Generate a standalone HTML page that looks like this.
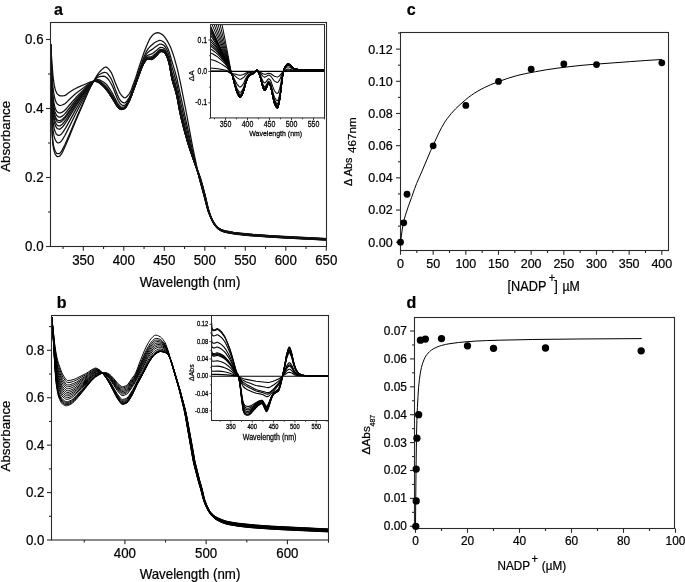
<!DOCTYPE html><html><head><meta charset="utf-8"><style>html,body{margin:0;padding:0;background:#fff;}svg{display:block;will-change:transform}text{font-family:"Liberation Sans",sans-serif;fill:#000;stroke:#000;stroke-width:0.22px}</style></head><body>
<svg width="685" height="582" viewBox="0 0 685 582">
<rect width="685" height="582" fill="#fff"/>
<defs><clipPath id="ca"><rect x="50.5" y="22.5" width="276.0" height="224.0"/></clipPath><clipPath id="cia"><rect x="210.5" y="24.6" width="114.0" height="93.30000000000001"/></clipPath></defs>
<g clip-path="url(#ca)">
<path d="M50.9 44.7l1.1 82.8l0.1 5.4l0.3 5.7l0.5 6.3l0.5 2.8l0.5 2.7l0.7 2.2l0.6 1.6l0.9 1.3l0.8 0.9l0.4 0.2l0.7 0l1.1-0.2l0.5-0.2l0.6-0.5l0.8-1.1l0.7-0.9l0.6-1.2l2.8-5.9l2.3-5.4l8.7-21.1l12.6-29.4l2-4l2.4-4.4l3.9-6.9l1.2-1.8l0.8-1.1l3.5-3.6l1.2-1l0.8-0.4l0.8-0.3l0.8-0.1l0.7 0.2l0.8 0.6l1.6 1.8l1.6 2.2l0.8 1.3l1.2 2.7l2.3 6.4l2.8 6.5l1.2 2.7l1.1 2.1l2.4 3l1.2 1l0.4 0.1l0.8 0.1l0.4-0.1l0.8-0.5l1.5-1.5l1.6-1.9l0.8-1.4l1.2-2.6l4.3-11.8l3.9-12.3l4.4-12.9l2.7-7l2.4-5.4l0.8-1.5l1.2-1.7l1.5-2l1.2-1.1l0.8-0.4l2-0.8l1.2-0.2l1.2 0.2l0.7 0.2l1.2 0.6l1.2 0.7l0.8 0.6l0.8 0.8l1.2 1.4l2.3 3.4l2 3.7l2 4.3l1.5 4.1l1.6 4.9l3.2 11.5l1.5 6.8l2 9.2l5.9 29.9l4.6 25.3l1.5 7.7l4.7 22.4l1.8 8.2l1.6 6.1l2.9 10.3l2.9 11.7l1.3 4.3l2.1 5.5l2.1 4.5l1.6 2.8l2 2.8l1.6 1.7l1.2 1l2 1.3l2 0.9l2.7 0.8l3.2 0.7l3.5 0.6l4.8 0.7l7.1 0.8l7.4 0.7l20.1 1.4l17 1l37.8 1.9" fill="none" stroke="#111" stroke-width="1.25" stroke-linejoin="round"/>
<path d="M50.9 44.7l1.1 79.8l0.1 5.3l0.3 5.6l0.5 6.3l0.5 2.9l0.5 2.7l0.7 2.3l0.7 1.7l0.9 1.5l0.8 0.8l0.4 0.1l1 0l0.8-0.1l0.4-0.2l0.8-0.7l1-1.3l0.9-1.5l2.8-5.6l2.3-5.3l8.7-20.4l12.6-28.4l2.4-4.6l2-3.5l2.3-3.5l2-2.4l1.2-1.1l0.8-0.6l2.3-1.2l1.6-0.7l1.2-0.2l1.2 0.1l0.8 0.3l0.7 0.6l0.8 0.8l1.2 1.6l1.6 2.4l0.8 1.5l1.2 2.7l2.7 7.5l2 5l1.2 2.6l1.1 2.2l1.2 1.5l0.8 0.7l0.8 0.5l1.2 0.4l0.8 0l0.4-0.1l0.4-0.2l0.8-0.7l1.1-1.5l2-3l1.2-2.5l1.2-3l3.5-9.7l4-11.8l3.5-10.1l2-5l1.9-4.1l1.6-2.4l1.6-1.9l4.3-3.8l2-1.2l2.4-1.1l1.1-0.3l1.2 0.1l1.2 0.5l1.2 0.6l0.8 0.7l1.2 1.4l1.1 1.8l1.2 2.2l1.2 2.8l0.8 2.2l2 7.2l3.5 11.5l2 7.4l6.3 29.4l9.2 42.5l6.7 26.9l4.8 17.7l2.9 11.5l0.9 2.9l0.8 2.5l2.5 6.1l1.2 2.6l1.2 2.2l1.3 1.8l1.2 1.6l1.5 1.7l1.2 1l2 1.3l2 0.9l2.7 0.8l3.2 0.7l3.5 0.6l4.8 0.6l7.1 0.8l7.4 0.7l20.1 1.5l17 1l37.8 1.8" fill="none" stroke="#111" stroke-width="1.25" stroke-linejoin="round"/>
<path d="M50.9 44.7l1.1 68.6l0.4 9.7l0.7 7.5l0.4 2.7l0.5 2.7l0.6 2l0.7 1.8l0.9 1.7l0.8 1l0.4 0.2l1.3 0.2l0.5-0.1l0.5-0.2l0.7-0.5l1.1-1.1l1.1-1.5l2.1-3.6l1.7-3.2l9.7-19.6l12.2-23.5l2-3.4l2-3.1l1.5-2l2-2.1l1.6-1.3l1.2-0.6l0.8-0.3l2.3-0.4l1.6-0.1l1.2 0.2l1.2 0.5l1.1 0.8l0.8 0.8l1.2 1.5l1.6 2.5l1.2 2l1.6 3.6l4.3 10.8l0.8 1.6l1.2 2.1l1.1 1.5l1.2 0.9l0.8 0.3l0.8 0.1l0.8 0l0.8-0.3l0.4-0.3l0.8-0.8l1.1-1.7l2-3.4l1.2-2.6l4.7-12.8l4-11.5l3.5-9.9l1.2-2.9l1.6-3.3l0.7-1.4l0.8-1.2l2-1.8l1.2-0.9l2-1.2l2.7-2.1l3.6-2.5l1.1-0.6l0.8-0.1l0.4 0l1.2 0.3l1.2 0.5l0.8 0.6l1.2 1.4l1.1 1.8l0.8 1.5l0.8 1.9l1.6 4.6l2 8.7l3.5 11.8l1.6 5.8l1.2 5.3l2.3 11.8l2.8 12.4l5.5 23.4l3 12.7l2.7 10.2l10 36.6l2.9 11.4l0.8 2.9l0.9 2.5l1.6 4.2l1.2 2.8l2.1 3.9l1.2 1.7l1.2 1.6l1.5 1.7l1.2 1l2 1.3l2 0.9l2.7 0.8l3.6 0.7l3.5 0.6l4.8 0.6l7 0.8l7.5 0.7l20.1 1.5l17 0.9l37.4 1.9" fill="none" stroke="#111" stroke-width="1.25" stroke-linejoin="round"/>
<path d="M50.9 44.7l1.1 60.9l0.1 4.2l0.4 5.9l0.7 7.5l0.5 2.8l0.5 2.4l0.6 2.4l0.6 1.4l1 1.9l0.8 0.8l0.6 0.3l1 0.1l0.5 0.1l0.4-0.2l0.7-0.4l1.1-0.9l1.2-1.5l1.9-2.8l1.4-2.2l10.1-18.3l12.6-21.4l2.4-3.5l1.6-2l1.1-1.1l0.8-0.6l0.8-0.4l0.8-0.3l1.2-0.2l1.2 0.1l0.8 0.2l1.5 0.7l2 1.1l1.2 0.7l1.2 1l1.2 1.1l1.1 1.4l2.4 3.4l2.4 4l4.7 9.1l0.8 1.3l1.6 2l1.1 1l0.8 0.4l0.8 0.1l0.8 0l1.2-0.3l0.8-0.3l0.4-0.4l0.8-0.9l1.1-1.9l1.6-2.8l1.2-2.5l1.6-4l3.1-8.6l4.4-12.4l3.1-8.5l1.6-3.6l2-3.7l0.7-1.1l0.8-0.6l1.6-0.8l2.8-0.9l0.7-0.5l4.4-3.4l2-1.8l0.7-0.5l0.8-0.3l0.4-0.1l1.2 0.2l0.8 0.2l0.8 0.4l0.8 0.6l0.8 1l1.1 1.9l1.2 2.6l1.6 4.6l0.8 3.3l1.2 6.3l0.8 3.5l3.5 11.9l1.2 4.5l0.8 3.5l3.1 15.9l2.8 12l3.1 12.6l2.8 10.5l2.7 9.8l2.2 7.9l4.2 13.6l2 6.8l3.9 14.6l2.5 9.7l1.2 4.5l0.8 2.5l1.3 3.2l2 4.6l1.2 2.3l0.8 1.3l2 2.7l1.6 1.7l1.1 1l2 1.2l2 0.9l2.7 0.8l3.6 0.8l3.5 0.6l4.8 0.6l7 0.8l7.5 0.7l20.1 1.4l17 1l37.4 1.8" fill="none" stroke="#111" stroke-width="1.25" stroke-linejoin="round"/>
<path d="M50.9 44.7l1.1 54.4l0.5 9.5l0.8 7.9l0.5 3l0.5 2.6l0.5 2l0.7 1.8l1 1.7l0.7 0.9l0.9 0.4l1 0.2l0.5 0l0.6-0.2l1.7-1.3l2.2-2.6l2.5-3.6l9.5-15.6l12.2-18.4l2.4-3.2l1.6-1.8l1.2-1l0.7-0.5l0.8-0.4l0.8-0.1l1.2 0l1.2 0.2l1.2 0.5l1.5 1l2.4 1.8l2.4 2.2l2.3 2.9l2.4 3.5l1.6 2.6l4.3 7.8l1.2 1.9l1.2 1.4l1.1 1.2l1.2 0.7l0.8 0.1l0.8 0l0.8-0.2l1.6-0.7l0.8-0.8l1.1-1.8l2-3.6l1.2-2.5l1.6-4.1l3.5-9.7l3.6-10l3.1-8.4l1.6-3.6l2.4-4.2l0.7-0.9l0.4-0.3l0.4-0.2l1.6-0.3l2.4-0.3l1.1-0.5l0.8-0.6l3.2-2.7l2.4-2.4l1.1-0.9l0.8-0.2l0.4 0l1.2 0.2l1.2 0.3l0.4 0.3l0.8 0.8l1.1 1.8l0.8 1.4l1.2 3l1.2 3.8l0.8 3.6l1.6 8.8l1.1 4.6l2.8 9l1.2 4.6l3.9 19.8l2 8.5l2.4 9.4l3.1 11.6l2.7 9.4l3.1 10.1l4.3 12.9l1.9 6.4l4.4 16l2.4 9.6l1.2 4.5l0.8 2.4l1.2 3.2l2 4.7l1.2 2.3l0.8 1.3l2 2.6l1.6 1.7l1.1 0.9l2 1.3l2 0.9l2.7 0.8l3.6 0.7l3.9 0.7l4.8 0.6l7 0.8l7.5 0.7l19.7 1.4l17 1l37.4 1.8" fill="none" stroke="#111" stroke-width="1.25" stroke-linejoin="round"/>
<path d="M50.9 44.7l1.1 51.1l0.1 3.6l0.4 6.3l0.8 7.2l0.5 3.1l0.5 2.6l0.5 2.1l0.7 1.8l1 1.8l0.7 0.9l0.9 0.4l1 0.3l0.5 0l0.6-0.1l1.7-1.2l2.3-2.6l2.2-2.9l9.7-15l12.2-17.1l2.4-3l1.6-1.7l0.8-0.7l0.7-0.5l1.2-0.4l0.8-0.1l1.2 0.1l1.2 0.4l0.8 0.3l1.5 1.1l2.4 1.9l2.4 2.4l2.3 2.8l2 2.8l4.7 7.8l2.8 4.9l0.8 1l1.6 1.6l1.1 0.9l0.4 0.1l0.8 0.1l0.8-0.1l0.8-0.2l1.6-0.8l0.8-0.8l0.7-1.1l2.4-4.4l0.8-1.6l2-5l7.1-19.7l3.1-8.3l1.6-3.6l2.4-3.9l0.7-0.9l0.4-0.3l1.2-0.2l3.2-0.2l1.1-0.4l1.2-0.9l2.8-2.4l2.7-2.9l0.8-0.6l0.4-0.2l0.4-0.1l0.8 0l2 0.5l0.4 0.2l0.8 0.8l1.1 1.8l0.8 1.4l1.2 3.1l1.2 3.9l0.8 3.7l1.6 9.1l1.1 4.7l2.8 9l1.2 4.5l3.9 20l2 8.4l2 7.8l3.5 12.8l2.4 7.9l3.5 11l4.3 12.5l2 6.4l4.3 15.9l2.4 9.6l1.2 4.5l0.8 2.4l1.1 3.2l2 4.6l1.2 2.3l0.8 1.3l2 2.6l1.6 1.7l1.1 0.9l2 1.3l2 0.9l2.7 0.7l3.6 0.8l3.9 0.7l4.8 0.6l7 0.8l7.5 0.6l19.7 1.5l17 0.9l37.4 1.9" fill="none" stroke="#111" stroke-width="1.25" stroke-linejoin="round"/>
<path d="M50.9 44.7l1.1 47.5l0.4 7.7l0.7 7.6l0.4 3l0.7 3.7l0.6 2.7l0.7 1.9l0.8 1.7l0.7 1l0.3 0.2l0.8 0.4l1.2 0.4l1-0.2l1.5-0.9l0.9-0.8l2-2.1l1.9-2.4l9.5-13.8l11.8-15.3l2.4-2.8l1.6-1.6l1.6-1.3l1.1-0.4l0.8-0.1l1.2 0.1l1.2 0.3l1.2 0.6l1.1 0.8l2 1.7l1.6 1.4l1.2 1.3l2.7 3.3l2 2.8l4.7 7.7l2.8 4.8l0.8 1l1.6 1.5l1.1 0.8l0.4 0.1l0.8 0.1l1.6-0.4l1.6-0.8l0.8-0.8l0.7-1.1l2.4-4.4l0.8-1.7l1.6-3.9l7.5-20.8l3.1-8.1l1.6-3.6l2-3.3l0.7-1.1l0.8-0.6l1.2-0.1l3.2 0l0.4-0.1l0.7-0.3l1.2-0.9l2.8-2.4l2.7-3l0.8-0.7l0.4-0.2l0.4-0.1l1.2 0.1l1.6 0.3l0.4 0.3l0.4 0.3l0.8 1l0.7 1.2l0.8 1.5l1.2 3.1l1.2 4l0.8 3.7l1.6 9.3l1.1 4.7l2.8 9.1l1.2 4.5l0.8 3.7l2.7 14.6l1.6 6.9l3.2 12.4l3.5 12.5l2 6.4l2.4 7.2l5.1 14.8l2 6.1l1.6 5.5l2.7 10.2l3.2 12.7l1.1 4.1l2 5.4l1.9 4.4l1.6 2.7l2 2.6l1.6 1.7l1.1 0.9l2 1.3l2 0.8l3.1 0.9l3.6 0.7l3.9 0.7l4.7 0.6l6.7 0.7l7.5 0.7l20.1 1.4l17 1l37 1.8" fill="none" stroke="#111" stroke-width="1.25" stroke-linejoin="round"/>
<path d="M50.9 44.7l1.1 45.6l0.4 7.6l0.7 7.6l0.4 3l0.7 3.8l0.6 2.7l0.7 2l0.8 1.7l0.7 0.9l0.3 0.3l0.8 0.4l1.2 0.4l1-0.1l1.5-0.9l1.1-0.9l1.9-1.9l1.6-2.1l7-9.7l2.7-3.7l11.8-14.7l2.4-2.7l1.6-1.5l1.6-1.2l1.1-0.4l0.8-0.1l1.2 0.2l1.2 0.4l1.2 0.6l2.3 1.8l2 1.8l1.2 1.2l2.3 2.9l2 2.6l5.5 8.8l2.4 4.1l1.2 1.6l1.2 1.1l1.1 1l0.8 0.3l0.4 0l0.8 0l0.8-0.2l1.2-0.5l0.8-0.5l0.8-0.8l0.7-1.1l2.4-4.4l0.8-1.7l2-5l7.5-20.7l2.7-7.1l1.6-3.5l2-3.3l0.7-1l0.8-0.6l1.2-0.1l3.2 0.1l0.4 0l0.7-0.4l1.2-0.8l2.8-2.5l2.7-3l0.8-0.7l0.4-0.2l0.4-0.1l1.2 0l1.6 0.4l0.4 0.2l0.4 0.3l0.8 1l0.7 1.2l0.8 1.5l1.2 3.2l1.2 3.9l0.8 3.8l1.6 9.4l1.1 4.8l2.8 9l1.2 4.6l1.2 5.8l1.9 10.6l1.6 7.1l3.2 12.6l3.5 12.6l1.6 5.1l2.4 7.2l2.4 7l3.6 9.9l2 6.1l2.8 9.9l2.3 8.9l2.3 9.6l1.6 5.3l1.9 5.1l1.6 3.4l1.5 2.8l2 2.6l1.6 1.6l1.1 0.9l2 1.2l2 0.9l3.1 0.9l3.6 0.7l3.9 0.6l5.1 0.7l6.7 0.7l7.5 0.7l19.7 1.4l17 1l37 1.8" fill="none" stroke="#111" stroke-width="1.25" stroke-linejoin="round"/>
<path d="M50.9 44.7l1.1 41.9l0.5 8.3l0.7 7.8l0.6 3.6l0.5 2.8l0.7 2.6l0.7 1.8l0.8 1.7l0.7 0.9l1.2 0.8l1.1 0.3l0.9-0.1l1.4-0.7l1.1-0.8l1.9-1.7l1.6-1.9l7-9l2.7-3.5l11.8-13.3l2.4-2.4l1.6-1.5l1.6-1l1.1-0.3l0.8-0.1l1.2 0.2l1.6 0.6l0.8 0.4l2.3 1.9l2 1.8l1.2 1.2l2.3 2.9l2 2.7l5.5 8.8l2.4 4l0.8 1.1l1.2 1.2l1.1 1.1l0.8 0.4l0.4 0.1l0.8 0.1l0.8-0.2l2-0.8l0.8-0.6l1.1-1.7l2.4-4.4l0.8-1.7l2-5l7.5-20.6l2.7-7.1l1.6-3.5l2-3.3l0.7-1l0.8-0.6l1.2 0l3.2 0.2l0.4-0.1l0.7-0.3l1.2-0.9l2.8-2.4l2.7-3.2l0.8-0.6l0.4-0.2l0.4-0.2l1.2 0.1l1.6 0.3l0.4 0.2l0.4 0.4l0.8 1l0.7 1.2l0.8 1.5l1.2 3.1l1.2 4l0.8 3.8l1.6 9.5l1.1 4.8l2.8 9l1.2 4.6l1.2 5.8l1.9 10.6l1.6 7.2l3.2 12.5l3.5 12.5l2 6.3l2 6l2.5 6.9l3.7 9.9l2 6l2.7 9.9l2.4 8.9l2.2 9.6l1.6 5.3l1.9 5.1l1.5 3.4l1.5 2.7l2 2.6l1.6 1.6l1.1 0.9l2 1.2l2 0.9l3.1 0.8l3.6 0.8l3.9 0.6l5.5 0.7l6.7 0.7l7.5 0.7l19.7 1.4l16.6 0.9l37 1.8" fill="none" stroke="#111" stroke-width="1.25" stroke-linejoin="round"/>
<path d="M50.9 44.7l1.1 37.6l0.5 7.8l0.8 8.2l0.6 4.1l0.5 2.7l0.7 2.6l0.7 1.7l0.8 1.7l0.6 0.7l1.3 0.9l1.1 0.3l0.8 0l1.4-0.6l2.2-1.4l0.8-0.7l1.5-1.5l3.1-3.8l6.7-7.7l11.4-11.4l2.4-2.1l2-1.6l1.6-0.9l1.1-0.3l0.8 0l1.2 0.3l1.6 0.6l0.8 0.4l2.3 1.9l2 1.8l1.2 1.2l2.3 2.9l2 2.6l5.5 8.8l2.4 4l0.8 1.2l0.8 0.8l1.5 1.3l0.8 0.5l0.4 0.1l0.8 0l0.8-0.1l2-0.8l0.8-0.7l1.1-1.6l2.4-4.4l0.8-1.7l2-5l7.1-19.6l3.1-8.2l1.6-3.5l2-3.2l0.7-1l0.8-0.5l0.8-0.1l3.6 0.3l0.4-0.1l0.7-0.3l1.2-0.8l2.8-2.5l2.7-3.2l0.8-0.6l0.4-0.3l0.4-0.1l1.2 0.1l1.6 0.3l0.4 0.2l0.4 0.4l0.8 1l0.7 1.2l0.8 1.5l1.2 3.1l1.2 4l0.8 3.9l1.2 7.3l0.8 3.9l1.1 4.5l2 6.3l1.2 4.2l1.2 5.4l2.7 14.7l1.2 5.2l2.8 11l3.5 12.6l2 6.4l2.1 5.9l2.8 8.1l3.8 9.8l2 6l1.6 5.5l1.6 5.8l1.9 7.5l2.2 9.5l1.5 5.3l1.9 5.1l1.5 3.4l1.6 2.7l1.9 2.6l1.6 1.6l1.1 0.9l2 1.2l2 0.9l3.1 0.8l3.6 0.7l3.9 0.6l5.5 0.7l6.7 0.8l7.5 0.6l19.7 1.4l16.6 1l37 1.8" fill="none" stroke="#111" stroke-width="1.25" stroke-linejoin="round"/>
<path d="M50.9 44.7l0.7 19.9l0.5 11.4l0.8 10.6l0.7 5.6l0.6 3.2l0.6 3.1l0.7 2.2l0.8 1.9l0.7 1.1l0.6 0.5l1.3 0.9l0.6 0.3l0.5 0.1l0.7-0.1l1.5-0.4l1.9-0.8l0.8-0.5l1.4-1.1l2.7-2.8l5.1-4.8l2-1.7l2-1.6l5.5-4l3.9-3l3.2-2.1l1.2-0.7l1.2-0.5l0.7-0.2l0.8 0l0.8 0l1.2 0.3l1.6 0.6l0.8 0.5l2.3 1.8l2 1.8l1.2 1.2l2.3 2.9l2 2.6l5.5 8.8l2.4 4l0.8 1.1l0.8 0.8l1.5 1.3l0.8 0.5l0.4 0.1l0.8 0l0.8-0.2l2-0.8l0.8-0.6l1.1-1.7l2.4-4.4l0.8-1.7l2-5l7.1-19.6l3.1-8.1l1.6-3.5l2-3.2l0.7-1l0.8-0.5l0.8 0l3.6 0.3l0.4 0l0.7-0.3l1.2-0.9l2.8-2.5l2.7-3.2l0.8-0.6l0.4-0.3l0.4-0.1l1.2 0l1.6 0.3l0.4 0.3l0.4 0.3l0.8 1l0.7 1.2l0.8 1.5l1.2 3.2l1.2 4l0.8 3.9l1.6 9.5l1.1 4.9l2.8 9l1.2 4.6l1.2 5.8l1.9 10.6l1.6 7.2l2.8 11l3.5 12.5l2.1 6.4l2 5.9l2.9 8l3.8 9.8l2.1 5.9l1.6 5.5l1.5 5.8l1.9 7.5l2.6 11l1.1 3.8l1.8 5.1l1.5 3.4l1.6 2.7l1.9 2.5l1.6 1.6l1.1 0.9l2 1.2l2 0.8l3.1 0.9l4 0.8l3.9 0.6l5.5 0.6l6.7 0.8l7.5 0.6l19.7 1.4l16.6 1l36.6 1.8" fill="none" stroke="#111" stroke-width="1.25" stroke-linejoin="round"/>
<path d="M50.9 44.7l0.4 8.7l0.6 8.9l1 12.4l0.5 4.6l0.9 6.1l0.8 3.6l0.7 2l0.7 1.6l0.5 1l0.7 0.7l1.4 1.1l0.6 0.3l0.6 0.2l2.6-0.1l1.1-0.1l0.6-0.1l1.4-0.7l3-2.3l5.1-3.3l2-1.1l1.6-0.8l9.8-4.2l4-1.5l1.2-0.3l0.8-0.1l0.7 0l1.2 0.2l2.8 0.9l1.2 0.6l1.1 0.9l1.6 1.3l2.4 2.3l2.7 3.3l2 2.7l5.1 8.2l2.4 4l0.8 1.1l0.8 0.8l1.5 1.3l0.8 0.5l0.8 0.1l0.8-0.1l1.2-0.3l1.2-0.6l0.8-0.6l1.1-1.7l2.4-4.4l1.2-2.6l1.2-3l7.5-20.7l3.1-8.1l1.6-3.5l2.4-3.7l0.7-0.8l0.4-0.2l0.8 0l3.6 0.3l0.4 0l0.7-0.3l1.2-0.9l2.8-2.5l2.7-3.2l0.8-0.6l0.4-0.3l0.4-0.1l1.2 0l1.6 0.3l0.4 0.3l0.4 0.3l0.8 1l0.7 1.2l0.8 1.5l1.2 3.2l1.2 4l0.8 3.9l1.2 7.4l0.8 3.9l1.1 4.5l2 6.3l1.2 4.2l1.2 5.4l2.3 12.7l1.2 5.5l2.8 11.2l3.6 12.7l2 6.4l2 6l3 8.1l4.6 12l2.1 6.2l1.6 5.5l2.3 8.9l3.3 14l0.7 2.6l0.7 2.3l1.5 3.9l1.5 3.4l1.5 2.7l1.9 2.5l1.6 1.6l1.1 0.9l2 1.1l2 0.9l3.1 0.8l4 0.8l3.9 0.6l5.5 0.7l6.7 0.7l7.5 0.7l19.7 1.4l16.6 0.9l36.6 1.8" fill="none" stroke="#111" stroke-width="1.25" stroke-linejoin="round"/>
</g>
<rect x="210.5" y="24.6" width="114.0" height="93.30000000000001" fill="#fff"/>
<rect x="50.5" y="22.5" width="276" height="224" fill="none" stroke="#2a2a2a" stroke-width="1.1"/>
<line x1="46" y1="246.5" x2="50.5" y2="246.5" stroke="#2a2a2a" stroke-width="1.1"/>
<text transform="translate(43.6,251.1) scale(1,1.1)" font-size="13.3" text-anchor="end">0.0</text>
<line x1="46" y1="177.5" x2="50.5" y2="177.5" stroke="#2a2a2a" stroke-width="1.1"/>
<text transform="translate(43.6,182.1) scale(1,1.1)" font-size="13.3" text-anchor="end">0.2</text>
<line x1="46" y1="108.5" x2="50.5" y2="108.5" stroke="#2a2a2a" stroke-width="1.1"/>
<text transform="translate(43.6,113.1) scale(1,1.1)" font-size="13.3" text-anchor="end">0.4</text>
<line x1="46" y1="39.5" x2="50.5" y2="39.5" stroke="#2a2a2a" stroke-width="1.1"/>
<text transform="translate(43.6,44.1) scale(1,1.1)" font-size="13.3" text-anchor="end">0.6</text>
<line x1="48" y1="212" x2="50.5" y2="212" stroke="#2a2a2a" stroke-width="1.1"/>
<line x1="48" y1="143" x2="50.5" y2="143" stroke="#2a2a2a" stroke-width="1.1"/>
<line x1="48" y1="74" x2="50.5" y2="74" stroke="#2a2a2a" stroke-width="1.1"/>
<line x1="83.3" y1="246.5" x2="83.3" y2="250.8" stroke="#2a2a2a" stroke-width="1.1"/>
<text transform="translate(83.3,264.6) scale(1,1.1)" font-size="13.3" text-anchor="middle">350</text>
<line x1="123.8" y1="246.5" x2="123.8" y2="250.8" stroke="#2a2a2a" stroke-width="1.1"/>
<text transform="translate(123.8,264.6) scale(1,1.1)" font-size="13.3" text-anchor="middle">400</text>
<line x1="164.3" y1="246.5" x2="164.3" y2="250.8" stroke="#2a2a2a" stroke-width="1.1"/>
<text transform="translate(164.3,264.6) scale(1,1.1)" font-size="13.3" text-anchor="middle">450</text>
<line x1="204.8" y1="246.5" x2="204.8" y2="250.8" stroke="#2a2a2a" stroke-width="1.1"/>
<text transform="translate(204.8,264.6) scale(1,1.1)" font-size="13.3" text-anchor="middle">500</text>
<line x1="245.3" y1="246.5" x2="245.3" y2="250.8" stroke="#2a2a2a" stroke-width="1.1"/>
<text transform="translate(245.3,264.6) scale(1,1.1)" font-size="13.3" text-anchor="middle">550</text>
<line x1="285.8" y1="246.5" x2="285.8" y2="250.8" stroke="#2a2a2a" stroke-width="1.1"/>
<text transform="translate(285.8,264.6) scale(1,1.1)" font-size="13.3" text-anchor="middle">600</text>
<line x1="326.3" y1="246.5" x2="326.3" y2="250.8" stroke="#2a2a2a" stroke-width="1.1"/>
<text transform="translate(326.3,264.6) scale(1,1.1)" font-size="13.3" text-anchor="middle">650</text>
<line x1="63.05" y1="246.5" x2="63.05" y2="249" stroke="#2a2a2a" stroke-width="1.1"/>
<line x1="103.55" y1="246.5" x2="103.55" y2="249" stroke="#2a2a2a" stroke-width="1.1"/>
<line x1="144.05" y1="246.5" x2="144.05" y2="249" stroke="#2a2a2a" stroke-width="1.1"/>
<line x1="184.55" y1="246.5" x2="184.55" y2="249" stroke="#2a2a2a" stroke-width="1.1"/>
<line x1="225.05" y1="246.5" x2="225.05" y2="249" stroke="#2a2a2a" stroke-width="1.1"/>
<line x1="265.55" y1="246.5" x2="265.55" y2="249" stroke="#2a2a2a" stroke-width="1.1"/>
<line x1="306.05" y1="246.5" x2="306.05" y2="249" stroke="#2a2a2a" stroke-width="1.1"/>
<text transform="translate(190,286.6) scale(1,1.08)" font-size="13.3" text-anchor="middle">Wavelength (nm)</text>
<text x="9.8" y="136.4" font-size="13.3" text-anchor="middle" font-weight="normal" transform="rotate(-90 9.8 136.4)">Absorbance</text>
<text x="58.5" y="15.3" font-size="16" text-anchor="middle" font-weight="bold" >a</text>
<g clip-path="url(#cia)">
<path d="M209.7 70.9l11.5 0.2l5.4 0.2l0.8 0.2l0.7 0.3l2.2 1.5l0.7 0.4l1.6 0.1l2.3 0.1l3.6 1.1l1 0.3l0.8 0l1.1-0.2l1.9-0.6l2.3-1.3l1.6-0.6l1-0.4l1.9-0.2l2.9-0.2l3.2-0.6l0.8 0l1 0.2l1.3 0.4l3.5 2l1.5 0.4l0.6 0.1l0.6-0.1l2.9-0.9l0.5 0l0.8 0.1l1.2 0.4l2.8 2l0.8 0.4l1.7 0.6l1.2 0.1l0.4 0l0.6-0.3l1.3-0.9l2.7-3.4l0.8-0.7l1.5-0.8l2.3-0.5l2.1 0l4.9 0.7l4 0.1l26.9 0.1" fill="none" stroke="#000" stroke-width="1.05" stroke-linejoin="round"/>
<path d="M209.7 67.9l3.4 0.3l4.8 0.5l6.8 1.2l2.1 0.5l1.3 0.7l2.3 2l1.4 0.6l0.6 0.3l2.5 1.9l2.3 2l1.7 1l1.2 0.3l0.5 0l0.6-0.2l1.9-1.2l0.8-0.7l1.7-2l1.6-1.4l1-0.6l1.9-0.6l2.9-0.4l1.7-0.5l1.5-0.6l0.8 0l1 0.4l1.3 0.8l3.5 3.9l0.6 0.5l0.9 0.5l0.6 0l0.6-0.2l1.1-0.6l1.2-0.9l0.6-0.3l0.5 0l0.8 0.3l0.8 0.5l0.4 0.4l2.8 3.9l0.8 0.9l1.7 1l0.6 0.2l0.6 0.1l0.4-0.1l0.6-0.5l1.3-1.9l2.7-6.7l0.8-1.5l0.7-0.9l0.8-0.6l1.2-0.5l1.1-0.4l1-0.2l1.1 0.1l1.8 0.4l1.7 0.6l1.4 0.3l4 0.3l6.5 0.2l20.4 0" fill="none" stroke="#000" stroke-width="1.05" stroke-linejoin="round"/>
<path d="M209.7 59.4l1.5 0.3l1.7 0.4l2.9 1l1.8 0.8l4 2.2l3.6 2.4l1.6 1.2l1.3 1.4l2.2 2.9l1.3 1.2l0.4 0.6l1.9 4.2l2.9 5.8l0.6 0.8l1.3 1.6l0.6 0.5l0.6 0.3l0.6 0l0.7-0.5l0.8-0.8l1.1-1.6l0.8-1.4l1.7-4l1.6-2.7l1-1.2l0.9-0.7l1-0.5l2.3-0.5l0.8-0.3l1.5-0.9l1.5-1.2l0.6-0.1l0.4 0.1l0.8 0.6l1.3 1.8l0.8 1.6l2.7 6.2l0.6 0.9l0.9 1l0.2 0.1l0.4-0.1l0.6-0.4l1.1-1.2l1.2-1.8l0.6-0.6l0.2 0l0.3 0l0.8 0.6l0.8 1l0.4 0.7l2.8 8l0.8 1.7l1 1.3l0.7 0.8l0.6 0.4l0.6 0.1l0.4-0.2l0.6-0.9l1.3-3.9l0.4-1.6l2.3-11.7l0.8-3.1l0.7-1.7l0.8-1.2l1.2-1.2l1.1-0.8l1-0.2l1.1 0.2l1.8 0.7l1.7 1.2l1.4 0.6l1.1 0.3l2.9 0.4l6.5 0.2l20.4 0.1" fill="none" stroke="#000" stroke-width="1.05" stroke-linejoin="round"/>
<path d="M209.7 52.8l1.5 0.5l1.7 0.7l2.9 1.7l1.8 1.2l3.8 3.2l3.8 3.9l1.6 1.8l1.3 2l2 3.3l1.3 1.7l0.4 0.6l0.6 1.4l1.5 5l2.7 7.6l0.6 1.3l0.9 1.5l0.8 1.2l0.6 0.6l0.4 0.2l0.4 0l0.3-0.1l0.4-0.3l0.8-1l1.3-2.4l0.8-1.9l1.7-5.3l1.6-3.6l1-1.7l0.9-0.9l1-0.6l0.7-0.3l1.4-0.4l0.8-0.4l1.7-1.3l1.3-1.4l0.4-0.3l0.4 0l0.4 0.1l0.6 0.6l1.5 2.7l0.8 2l2.7 8.3l0.6 1.2l0.9 1.4l0.2 0.1l0.4 0l0.6-0.6l1.1-1.7l1.2-2.3l0.6-0.8l0.2-0.1l0.3 0.1l0.8 0.8l0.8 1.3l0.4 0.9l2.8 10.6l0.8 2.3l1.6 2.6l0.5 0.6l0.6 0.4l0.4-0.1l0.2-0.2l0.4-0.7l0.6-1.8l0.9-3.9l0.4-2.1l2.3-15.7l0.6-3.2l0.4-1.6l0.7-2.1l0.8-1.4l1.2-1.4l0.9-0.9l0.6-0.3l0.4 0l1.1 0.2l1.8 0.9l1.7 1.7l1.4 0.8l1.1 0.4l2.9 0.5l2.3 0.2l4.2 0.1l20.4 0.2" fill="none" stroke="#000" stroke-width="1.05" stroke-linejoin="round"/>
<path d="M209.7 48.6l1.5 0.8l1.7 1.1l2.9 2.2l1.8 1.5l3.8 3.9l3.8 4.6l1.6 2.2l1.3 2.2l2 3.7l1.3 1.9l0.4 0.6l0.6 1.6l1.7 6.3l2.5 7.8l0.6 1.4l0.9 1.7l0.8 1.3l0.6 0.6l0.4 0.3l0.4 0l0.3-0.1l0.4-0.4l0.8-1.1l1.3-2.6l0.8-2.1l1.7-5.9l1.6-3.9l1-1.8l0.9-1l1-0.7l0.7-0.4l1.4-0.4l0.8-0.4l1.7-1.4l1.3-1.6l0.4-0.3l0.4 0l0.4 0.1l0.6 0.7l1.5 2.9l0.8 2.3l2.7 9.1l0.6 1.3l0.9 1.5l0.2 0.1l0.4 0l0.6-0.6l1.1-1.9l1.2-2.6l0.6-0.8l0.2-0.1l0.3 0.1l0.4 0.3l0.4 0.6l0.8 1.4l0.4 1l2.8 11.7l0.8 2.5l0.8 1.6l0.8 1.2l0.5 0.7l0.6 0.4l0.4 0l0.2-0.3l0.4-0.8l0.6-2l0.9-4.2l0.4-2.4l2.3-17.2l0.6-3.6l0.4-1.7l0.7-2.3l0.8-1.6l1.2-1.5l0.9-1l0.6-0.3l0.4 0l0.6 0l0.5 0.3l1.8 1l1.7 1.8l1.4 0.9l1.1 0.4l2.9 0.5l2.3 0.3l4.2 0.1l20.4 0.2" fill="none" stroke="#000" stroke-width="1.05" stroke-linejoin="round"/>
<path d="M209.7 45.4l1.5 1l1.7 1.4l2.9 2.6l1.8 1.8l3.8 4.5l3.8 5.2l1.6 2.3l1.3 2.4l2 4l1.3 2l0.4 0.7l0.6 1.7l1.7 6.6l2.5 8.2l0.6 1.4l0.9 1.9l0.8 1.2l0.6 0.7l0.4 0.3l0.4 0.1l0.3-0.2l0.4-0.3l0.8-1.2l1.3-2.8l0.8-2.2l1.7-6.1l1.6-4.1l1-1.9l0.9-1l1-0.8l0.7-0.3l1.4-0.4l0.8-0.5l1.7-1.5l1.3-1.6l0.4-0.3l0.4-0.1l0.4 0.2l0.6 0.7l1.5 3l0.8 2.4l2.7 9.5l0.6 1.4l0.9 1.6l0.2 0.1l0.4 0l0.6-0.7l1.1-1.9l1.2-2.7l0.6-0.9l0.2-0.1l0.3 0.1l0.4 0.3l0.4 0.6l0.8 1.5l0.4 1.1l2.8 12.2l0.8 2.6l0.8 1.6l0.8 1.3l0.5 0.8l0.6 0.4l0.4-0.1l0.2-0.2l0.4-0.9l0.6-2.1l0.9-4.4l0.4-2.4l2.3-18.1l0.6-3.7l0.4-1.8l0.7-2.4l0.8-1.7l1.2-1.5l0.9-1l0.6-0.4l0.4 0l0.6 0l0.5 0.3l1.8 1l1.7 2l1.4 0.9l1.1 0.4l2.9 0.6l2.3 0.2l4.2 0.2l20.4 0.1" fill="none" stroke="#000" stroke-width="1.05" stroke-linejoin="round"/>
<path d="M209.7 43.4l1.5 1.3l1.7 1.5l2.9 2.9l1.8 2l3.8 4.8l3.8 5.5l1.6 2.5l1.3 2.5l2 4.1l1.7 2.8l0.6 1.7l1.7 6.8l2.5 8.4l0.6 1.5l0.9 1.8l0.8 1.3l0.6 0.8l0.4 0.2l0.4 0.1l0.3-0.2l0.4-0.3l0.8-1.2l1.3-2.8l0.8-2.3l1.7-6.2l1.6-4.2l1-2l0.9-1.1l1-0.7l0.7-0.4l1.4-0.4l0.8-0.4l1.7-1.6l1.3-1.6l0.4-0.3l0.4-0.1l0.4 0.2l0.6 0.7l1.5 3l0.8 2.5l2.7 9.7l0.6 1.5l0.9 1.5l0.2 0.2l0.4-0.1l0.6-0.6l1.1-2l1.2-2.8l0.6-0.9l0.2-0.1l0.3 0.1l0.4 0.4l0.4 0.6l0.8 1.5l0.4 1.1l2.8 12.5l0.8 2.7l0.8 1.6l0.8 1.4l0.5 0.7l0.6 0.4l0.4 0l0.2-0.3l0.4-0.9l0.6-2.1l0.9-4.5l0.4-2.5l2.3-18.4l0.6-3.9l0.4-1.8l0.7-2.4l0.8-1.7l1.2-1.7l0.9-1l0.6-0.3l0.4-0.1l0.6 0.1l0.5 0.2l1.8 1.1l1.7 2l1.4 0.9l1.1 0.5l2.9 0.5l2.3 0.3l4.2 0.1l20.4 0.2" fill="none" stroke="#000" stroke-width="1.05" stroke-linejoin="round"/>
<path d="M209.7 40.5l3.2 3.4l2.9 3.3l1.8 2.2l4 5.7l3.6 5.7l1.8 3l1.1 2.3l2 4.3l1.3 2.2l0.6 1.3l0.6 1.9l1.5 6.2l2.5 8.6l0.6 1.5l0.9 1.9l0.8 1.3l0.6 0.8l0.4 0.2l0.4 0.1l0.3-0.1l0.4-0.4l0.8-1.2l1.3-2.9l0.8-2.3l1.7-6.4l1.6-4.3l1-2l0.9-1.1l1-0.7l0.7-0.4l1.4-0.4l0.8-0.5l1.7-1.5l1.3-1.8l0.4-0.3l0.4-0.1l0.4 0.2l0.6 0.8l1.5 3.1l0.8 2.5l2.7 9.9l0.6 1.5l0.9 1.6l0.2 0.2l0.4-0.1l0.6-0.7l1.1-2l1.2-2.8l0.6-0.9l0.2-0.1l0.3 0.1l0.4 0.4l0.4 0.6l0.8 1.5l0.4 1.1l2.8 12.7l0.8 2.8l0.8 1.7l0.8 1.4l0.5 0.7l0.6 0.4l0.4 0l0.2-0.2l0.4-1l0.6-2.1l0.9-4.7l0.4-2.5l2.3-18.8l0.6-3.9l0.4-1.9l0.7-2.5l0.8-1.7l1.2-1.7l0.9-1l0.6-0.4l0.4 0l0.6 0.1l0.5 0.2l1.8 1.1l1.7 2l1.4 0.9l1.1 0.5l2.9 0.6l2.3 0.2l4.2 0.2l20.4 0.2" fill="none" stroke="#000" stroke-width="1.05" stroke-linejoin="round"/>
<path d="M209.7 38l3.2 3.8l4.7 6.3l4 6.1l3.6 6l1.6 2.8l1.3 2.8l2 4.5l1.5 2.7l0.4 0.9l0.6 2l1.3 5.5l1.7 6.2l1.4 4.3l1.1 2.3l0.8 1.4l0.6 0.7l0.6 0.4l0.5-0.2l0.6-0.6l0.8-1.4l1.1-2.5l0.8-2.3l1.7-6.5l1.6-4.3l1-2l0.9-1.1l1-0.8l0.7-0.4l1.4-0.4l0.8-0.5l1.7-1.5l1.3-1.8l0.4-0.3l0.4-0.1l0.4 0.2l0.6 0.8l1.5 3.1l0.8 2.6l2.7 10l0.6 1.5l0.9 1.6l0.2 0.1l0.4 0l0.6-0.7l1.1-2l1.2-2.9l0.6-0.9l0.2-0.1l0.3 0.1l0.4 0.4l0.4 0.6l0.8 1.5l0.4 1.2l2.8 12.8l0.8 2.8l1 2.1l0.7 1.3l0.6 0.7l0.6 0.2l0.2 0l0.2-0.3l0.6-1.5l1.3-6.3l0.4-2.6l2.3-19l0.8-4.9l0.7-2.8l0.8-2l0.4-0.7l0.8-1.1l1.1-1.3l0.6-0.3l0.4-0.1l0.6 0.1l0.5 0.2l1.8 1.1l1.7 2.1l1.4 0.9l1.1 0.5l2.9 0.6l2.3 0.2l4.2 0.2l20.4 0.2" fill="none" stroke="#000" stroke-width="1.05" stroke-linejoin="round"/>
<path d="M209.7 34.1l3.4 5l4.6 7.3l4.1 7l3.6 6.5l1.6 3.1l1.1 2.5l2 4.7l1.5 2.8l0.4 1l0.6 2l1.3 5.5l1.7 6.3l1.4 4.3l1.1 2.4l0.8 1.3l0.6 0.8l0.6 0.3l0.5-0.1l0.6-0.7l0.8-1.3l1.1-2.6l0.8-2.3l1.7-6.5l1.6-4.4l1-2l0.9-1.2l1-0.7l0.7-0.4l1.4-0.5l0.8-0.4l1.7-1.6l1.3-1.8l0.4-0.3l0.4-0.1l0.4 0.2l0.6 0.8l1.5 3.2l0.8 2.5l2.7 10.1l0.6 1.6l0.5 1.1l0.4 0.5l0.2 0.1l0.4 0l0.6-0.7l1.1-2.1l1.2-2.8l0.6-1l0.2-0.1l0.3 0.1l0.4 0.4l0.4 0.6l0.8 1.6l0.4 1.2l2.8 12.9l0.8 2.9l1 2l0.7 1.4l0.6 0.6l0.6 0.3l0.2-0.1l0.2-0.2l0.6-1.6l1.3-6.3l0.4-2.6l2.3-19.2l0.8-5l0.7-2.8l0.8-2l0.4-0.8l0.8-1.1l1.1-1.3l0.6-0.3l0.4-0.1l0.6 0.1l0.5 0.2l1.8 1.2l1.7 2l1.4 1l1.1 0.5l2.9 0.6l2.3 0.2l4.2 0.2l20.4 0.2" fill="none" stroke="#000" stroke-width="1.05" stroke-linejoin="round"/>
<path d="M209.7 31.1l3.4 5.8l4.8 8.5l7 13l2.3 4.7l2.9 7.1l0.5 1.2l1 1.7l0.4 0.9l3.6 13.9l1.4 4.3l1.1 2.4l0.8 1.4l0.6 0.7l0.6 0.4l0.5-0.2l0.6-0.6l0.8-1.4l1.1-2.6l0.8-2.3l1.7-6.6l1.6-4.4l1-2l0.9-1.1l1-0.8l0.7-0.4l1.4-0.4l0.8-0.5l1.7-1.6l1.3-1.8l0.4-0.3l0.4-0.1l0.4 0.2l0.6 0.8l1.5 3.2l0.8 2.5l2.7 10.2l0.6 1.5l0.5 1.1l0.4 0.6l0.2 0.1l0.4 0l0.6-0.7l1.1-2.1l1.2-2.9l0.6-0.9l0.2-0.1l0.3 0.1l0.4 0.4l0.4 0.6l0.8 1.6l0.4 1.1l2.8 13.1l0.8 2.8l1 2.1l0.7 1.4l0.6 0.6l0.6 0.3l0.2-0.1l0.2-0.2l0.6-1.6l1.3-6.3l0.4-2.7l2.3-19.3l0.8-5l0.7-2.8l0.8-2l0.4-0.8l0.8-1.1l1.1-1.3l0.6-0.4l0.4 0l0.6 0.1l0.5 0.2l1.8 1.1l1.7 2.1l1.4 1l1.1 0.5l2.9 0.6l2.3 0.2l4.2 0.2l20.4 0.2" fill="none" stroke="#000" stroke-width="1.05" stroke-linejoin="round"/>
<path d="M209.7 28.5l10.4 20l5.3 10.7l2 4.1l2.7 6.9l0.5 1.2l1 1.7l0.4 1l0.6 1.9l1.5 6.3l1.9 7l0.8 2.5l0.6 1.4l1.3 2.6l0.6 0.8l0.6 0.5l0.4 0.1l0.2-0.1l0.3-0.2l0.4-0.5l0.8-1.4l1.1-2.6l0.8-2.3l1.7-6.6l1.6-4.4l1-2.1l0.9-1.1l1-0.8l0.7-0.4l1.4-0.4l0.8-0.5l1.7-1.6l1.3-1.8l0.4-0.3l0.4-0.1l0.4 0.2l0.6 0.8l1.5 3.2l0.8 2.6l2.7 10.2l0.6 1.5l0.5 1.1l0.4 0.6l0.2 0.1l0.4 0l0.6-0.7l1.1-2.1l1.2-2.9l0.6-1l0.2-0.1l0.3 0.1l0.4 0.4l0.4 0.7l0.8 1.5l0.4 1.2l2.8 13.1l0.8 2.9l1 2.1l0.7 1.3l0.6 0.7l0.6 0.3l0.2-0.1l0.2-0.3l0.6-1.5l1.3-6.4l0.4-2.6l2.3-19.4l0.8-5.1l0.7-2.9l0.8-2l0.4-0.7l0.8-1.1l1.1-1.3l0.6-0.4l0.4-0.1l0.6 0.1l0.5 0.3l1.8 1.1l1.7 2.1l1.4 0.9l1.1 0.5l2.9 0.6l2.3 0.3l4.2 0.2l20.4 0.2" fill="none" stroke="#000" stroke-width="1.05" stroke-linejoin="round"/>
<path d="M209.7 26.2l15.4 32l2.3 5l2.7 7l0.5 1.3l1 1.7l0.6 1.5l1.9 7.7l1.9 7l0.8 2.5l0.6 1.4l1.3 2.6l0.6 0.9l0.6 0.5l0.4 0l0.2 0l0.3-0.3l0.4-0.5l0.8-1.4l1.1-2.6l0.8-2.4l1.7-6.6l1.6-4.4l1-2.1l0.9-1.1l1-0.8l0.7-0.4l1.4-0.4l0.8-0.5l1.7-1.6l1.3-1.8l0.4-0.3l0.4-0.1l0.4 0.2l0.6 0.8l1.5 3.2l0.8 2.6l2.7 10.3l0.6 1.5l0.5 1.1l0.4 0.6l0.2 0.1l0.4 0l0.6-0.7l1.1-2.1l1.2-2.9l0.6-1l0.2-0.1l0.3 0.1l0.4 0.4l0.4 0.6l0.8 1.6l0.4 1.2l2.8 13.2l0.8 2.8l1 2.2l0.7 1.3l0.6 0.7l0.6 0.3l0.2-0.1l0.2-0.3l0.6-1.6l1.3-6.4l0.4-2.6l2.3-19.5l0.8-5.1l0.7-2.9l0.8-2l0.4-0.7l0.8-1.1l1.1-1.4l0.6-0.3l0.4-0.1l0.6 0.1l0.5 0.2l1.8 1.2l1.7 2.1l1.4 0.9l1.1 0.5l2.9 0.6l2.3 0.3l4.2 0.2l20.4 0.2" fill="none" stroke="#000" stroke-width="1.05" stroke-linejoin="round"/>
<path d="M209.7 24.3l15.4 33.3l2.3 5.2l2.7 7.3l0.5 1.3l1 1.8l0.6 1.5l1.9 7.7l1.9 7.1l0.8 2.5l0.6 1.4l1.3 2.6l0.6 0.9l0.6 0.5l0.4 0.1l0.2-0.1l0.3-0.3l0.4-0.5l0.8-1.4l1.1-2.6l0.8-2.4l1.7-6.6l1.6-4.5l1-2l0.9-1.2l1-0.8l0.7-0.4l1.4-0.4l0.8-0.5l1.7-1.6l1.3-1.8l0.4-0.3l0.4-0.1l0.4 0.2l0.6 0.7l1.5 3.3l0.8 2.6l2.7 10.4l0.6 1.5l0.5 1.1l0.4 0.6l0.2 0.1l0.4 0l0.6-0.7l1.1-2.1l1.2-3l0.6-0.9l0.2-0.1l0.3 0.1l0.4 0.4l0.4 0.6l0.8 1.6l0.4 1.2l2.8 13.2l0.8 2.9l1 2.1l0.7 1.4l0.6 0.7l0.6 0.2l0.2 0l0.2-0.3l0.6-1.6l1.3-6.4l0.4-2.7l2.3-19.6l0.8-5.1l0.7-2.9l0.8-2l0.4-0.8l0.8-1.1l1.1-1.3l0.6-0.4l0.4 0l0.6 0.1l0.5 0.2l1.8 1.1l1.7 2.1l1.4 1l1.1 0.5l2.9 0.6l2.3 0.3l4.2 0.1l20.4 0.2" fill="none" stroke="#000" stroke-width="1.05" stroke-linejoin="round"/>
<path d="M209.7 18.7l17.3 42l1.1 3.2l2.2 6.4l1.3 2.9l0.6 1.6l1.9 7.5l1.9 7.1l0.8 2.4l0.6 1.4l1.3 2.7l0.6 0.8l0.6 0.5l0.4 0.1l0.2-0.1l0.3-0.3l0.4-0.4l0.8-1.4l1.1-2.6l0.8-2.4l1.7-6.6l1.6-4.4l1-2.1l0.9-1.1l1-0.8l0.7-0.4l1.4-0.4l0.8-0.5l1.7-1.6l1.3-1.8l0.4-0.3l0.4-0.1l0.4 0.2l0.6 0.8l1.5 3.2l0.8 2.6l2.7 10.2l0.6 1.6l0.5 1.1l0.4 0.5l0.2 0.2l0.4-0.1l0.6-0.7l1.1-2.1l1.2-2.8l0.6-1l0.2-0.1l0.3 0.1l0.4 0.4l0.4 0.6l0.8 1.6l0.4 1.2l2.8 13.1l0.8 2.9l1 2.1l0.7 1.3l0.6 0.7l0.6 0.3l0.2-0.1l0.2-0.2l0.6-1.6l1.3-6.4l0.4-2.7l2.3-19.4l0.8-5.1l0.7-2.9l0.8-2l0.4-0.7l0.8-1.1l1.1-1.4l0.6-0.3l0.4-0.1l0.6 0.1l0.5 0.2l1.8 1.2l1.7 2.1l1.4 0.9l1.1 0.5l2.9 0.6l2.3 0.3l4.2 0.2l20.4 0.2" fill="none" stroke="#000" stroke-width="1.0" stroke-linejoin="round"/>
<path d="M209.7 12.5l17.5 47.5l3.1 9.9l1.9 4.9l1.9 7.6l1.9 7l0.8 2.5l0.6 1.4l1.3 2.6l0.6 0.9l0.6 0.5l0.4 0.1l0.2-0.1l0.3-0.3l0.4-0.5l0.8-1.4l1.1-2.5l0.8-2.4l1.7-6.6l1.6-4.5l1-2.1l0.9-1.1l1-0.8l0.7-0.4l1.4-0.4l0.8-0.5l1.7-1.6l1.3-1.8l0.4-0.3l0.4-0.1l0.4 0.2l0.6 0.8l1.5 3.2l0.8 2.6l2.7 10.3l0.6 1.5l0.5 1.1l0.4 0.6l0.2 0.1l0.4 0l0.6-0.7l1.1-2.1l1.2-2.9l0.6-1l0.2-0.1l0.3 0.1l0.4 0.4l0.4 0.6l0.8 1.6l0.4 1.2l2.8 13.2l0.8 2.9l1 2.1l0.7 1.3l0.6 0.7l0.6 0.3l0.2-0.1l0.2-0.2l0.6-1.6l1.3-6.4l0.4-2.7l2.3-19.5l0.8-5.1l0.7-2.9l0.8-2l0.4-0.7l0.8-1.1l1.1-1.4l0.6-0.3l0.4-0.1l0.6 0.1l0.5 0.2l1.8 1.2l1.7 2.1l1.4 0.9l1.1 0.5l2.9 0.6l2.3 0.3l4.2 0.1l20.4 0.2" fill="none" stroke="#000" stroke-width="1.0" stroke-linejoin="round"/>
<path d="M209.7 5l17.1 52.3l1.3 4.5l2.2 7.8l2.1 6l1.7 6.8l2.5 9l0.6 1.6l1.3 2.7l0.8 1.2l0.6 0.5l0.4 0.1l0.2-0.1l0.3-0.3l0.4-0.5l0.8-1.4l1.1-2.6l0.8-2.4l1.7-6.6l1.6-4.5l1-2l0.9-1.2l1-0.8l0.7-0.4l1.4-0.4l0.8-0.5l1.7-1.6l1.3-1.8l0.4-0.3l0.4-0.1l0.4 0.2l0.6 0.7l1.5 3.3l0.8 2.6l2.7 10.4l0.6 1.5l0.5 1.1l0.4 0.6l0.2 0.1l0.4 0l0.6-0.7l1.1-2.1l1.2-3l0.6-0.9l0.2-0.1l0.3 0.1l0.4 0.4l0.4 0.6l0.8 1.6l0.4 1.2l2.8 13.2l0.8 2.9l1 2.1l0.7 1.4l0.6 0.7l0.6 0.2l0.2 0l0.2-0.3l0.6-1.6l1.3-6.4l0.4-2.7l2.3-19.6l0.8-5.1l0.7-2.9l0.8-2l0.4-0.8l0.8-1.1l1.1-1.3l0.6-0.4l0.4 0l0.6 0.1l0.5 0.2l1.8 1.1l1.7 2.1l1.4 1l1.1 0.5l2.9 0.6l2.3 0.3l4.2 0.1l20.4 0.2" fill="none" stroke="#000" stroke-width="1.0" stroke-linejoin="round"/>
<path d="M209.7-5l16.5 58.1l1.7 6.5l2.5 10.2l2 5.8l1.5 6.1l2.3 8.5l0.6 1.8l0.6 1.4l1.3 2.6l0.6 0.9l0.4 0.4l0.6 0.2l0.3-0.2l0.4-0.4l0.8-1.3l1.3-3l0.8-2.4l1.7-6.6l1.6-4.5l1-2l0.9-1.2l1-0.8l0.7-0.4l1.4-0.4l0.8-0.5l1.7-1.6l1.3-1.8l0.4-0.3l0.4-0.1l0.4 0.2l0.6 0.7l1.5 3.3l0.8 2.6l2.7 10.4l0.6 1.5l0.5 1.1l0.4 0.6l0.2 0.1l0.4 0l0.6-0.7l1.1-2.1l1.2-3l0.6-0.9l0.2-0.1l0.3 0.1l0.4 0.4l0.4 0.6l0.8 1.6l0.4 1.2l2.8 13.2l0.8 2.9l1 2.1l0.7 1.4l0.6 0.7l0.6 0.2l0.2 0l0.2-0.3l0.6-1.6l1.3-6.4l0.4-2.7l2.3-19.6l0.8-5.1l0.7-2.9l0.8-2l0.4-0.8l0.8-1.1l1.1-1.3l0.6-0.4l0.4 0l0.6 0.1l0.5 0.2l1.8 1.1l1.7 2.1l1.4 1l1.1 0.5l2.9 0.6l2.3 0.3l4.2 0.1l20.4 0.2" fill="none" stroke="#000" stroke-width="1.0" stroke-linejoin="round"/>
<path d="M209.7-18.3l16.7 69l4.4 20.1l1.6 5l1.7 6.7l2.5 8.9l0.6 1.6l1.1 2.3l0.8 1.3l0.6 0.7l0.6 0.2l0.3-0.2l0.4-0.4l0.8-1.3l1.3-3l0.8-2.4l1.7-6.6l1.6-4.5l1-2l0.9-1.2l1-0.8l0.7-0.4l1.4-0.4l0.8-0.5l1.7-1.6l1.3-1.8l0.4-0.3l0.4-0.1l0.4 0.2l0.6 0.7l1.5 3.3l0.8 2.6l2.7 10.4l0.6 1.5l0.5 1.1l0.4 0.6l0.2 0.1l0.4 0l0.6-0.7l1.1-2.1l1.2-3l0.6-0.9l0.2-0.1l0.3 0.1l0.4 0.4l0.4 0.6l0.8 1.6l0.4 1.2l2.8 13.2l0.8 2.9l1 2.1l0.7 1.4l0.6 0.7l0.6 0.2l0.2 0l0.2-0.3l0.6-1.6l1.3-6.4l0.4-2.7l2.3-19.6l0.8-5.1l0.7-2.9l0.8-2l0.4-0.8l0.8-1.1l1.1-1.3l0.6-0.4l0.4 0l0.6 0.1l0.5 0.2l1.8 1.1l1.7 2.1l1.4 1l1.1 0.5l2.9 0.6l2.3 0.3l4.2 0.1l20.4 0.2" fill="none" stroke="#000" stroke-width="1.0" stroke-linejoin="round"/>
<path d="M209.7-37l16.7 83.4l1.7 9.1l2.2 11.9l0.7 3.8l5.6 20.2l0.6 1.6l0.9 2l0.8 1.3l0.6 0.8l0.4 0.3l0.4 0.1l0.3-0.2l0.4-0.4l0.8-1.3l1.3-3l0.8-2.4l1.7-6.6l1.6-4.5l1-2l0.9-1.2l1-0.8l0.7-0.4l1.4-0.4l0.8-0.5l1.7-1.6l1.3-1.8l0.4-0.3l0.4-0.1l0.4 0.2l0.6 0.7l1.5 3.3l0.8 2.6l2.7 10.4l0.6 1.5l0.5 1.1l0.4 0.6l0.2 0.1l0.4 0l0.6-0.7l1.1-2.1l1.2-3l0.6-0.9l0.2-0.1l0.3 0.1l0.4 0.4l0.4 0.6l0.8 1.6l0.4 1.2l2.8 13.2l0.8 2.9l1 2.1l0.7 1.4l0.6 0.7l0.6 0.2l0.2 0l0.2-0.3l0.6-1.6l1.3-6.4l0.4-2.7l2.3-19.6l0.8-5.1l0.7-2.9l0.8-2l0.4-0.8l0.8-1.1l1.1-1.3l0.6-0.4l0.4 0l0.6 0.1l0.5 0.2l1.8 1.1l1.7 2.1l1.4 1l1.1 0.5l2.9 0.6l2.3 0.3l4.2 0.1l20.4 0.2" fill="none" stroke="#000" stroke-width="1.0" stroke-linejoin="round"/>
<line x1="210.5" y1="71.4" x2="324.5" y2="71.4" stroke="#000" stroke-width="1.1"/>
</g>
<rect x="210.5" y="24.6" width="114" height="93.3" fill="none" stroke="#2a2a2a" stroke-width="1.0"/>
<line x1="208.3" y1="102.8" x2="210.5" y2="102.8" stroke="#2a2a2a" stroke-width="0.9"/>
<text transform="translate(207.2,105.3) scale(1,1.2)" font-size="6.9" text-anchor="end">-0.1</text>
<line x1="208.3" y1="71.4" x2="210.5" y2="71.4" stroke="#2a2a2a" stroke-width="0.9"/>
<text transform="translate(207.2,73.9) scale(1,1.2)" font-size="6.9" text-anchor="end">0.0</text>
<line x1="208.3" y1="40" x2="210.5" y2="40" stroke="#2a2a2a" stroke-width="0.9"/>
<text transform="translate(207.2,42.5) scale(1,1.2)" font-size="6.9" text-anchor="end">0.1</text>
<line x1="209.1" y1="118.5" x2="210.5" y2="118.5" stroke="#2a2a2a" stroke-width="0.9"/>
<line x1="209.1" y1="87.1" x2="210.5" y2="87.1" stroke="#2a2a2a" stroke-width="0.9"/>
<line x1="209.1" y1="55.7" x2="210.5" y2="55.7" stroke="#2a2a2a" stroke-width="0.9"/>
<line x1="225.5" y1="117.9" x2="225.5" y2="120.1" stroke="#2a2a2a" stroke-width="0.9"/>
<text transform="translate(225.5,126.5) scale(1,1.2)" font-size="7.0" text-anchor="middle">350</text>
<line x1="247.5" y1="117.9" x2="247.5" y2="120.1" stroke="#2a2a2a" stroke-width="0.9"/>
<text transform="translate(247.5,126.5) scale(1,1.2)" font-size="7.0" text-anchor="middle">400</text>
<line x1="269.5" y1="117.9" x2="269.5" y2="120.1" stroke="#2a2a2a" stroke-width="0.9"/>
<text transform="translate(269.5,126.5) scale(1,1.2)" font-size="7.0" text-anchor="middle">450</text>
<line x1="291.5" y1="117.9" x2="291.5" y2="120.1" stroke="#2a2a2a" stroke-width="0.9"/>
<text transform="translate(291.5,126.5) scale(1,1.2)" font-size="7.0" text-anchor="middle">500</text>
<line x1="313.5" y1="117.9" x2="313.5" y2="120.1" stroke="#2a2a2a" stroke-width="0.9"/>
<text transform="translate(313.5,126.5) scale(1,1.2)" font-size="7.0" text-anchor="middle">550</text>
<line x1="214.5" y1="117.9" x2="214.5" y2="119.3" stroke="#2a2a2a" stroke-width="0.9"/>
<line x1="236.5" y1="117.9" x2="236.5" y2="119.3" stroke="#2a2a2a" stroke-width="0.9"/>
<line x1="258.5" y1="117.9" x2="258.5" y2="119.3" stroke="#2a2a2a" stroke-width="0.9"/>
<line x1="280.5" y1="117.9" x2="280.5" y2="119.3" stroke="#2a2a2a" stroke-width="0.9"/>
<line x1="302.5" y1="117.9" x2="302.5" y2="119.3" stroke="#2a2a2a" stroke-width="0.9"/>
<line x1="324.5" y1="117.9" x2="324.5" y2="119.3" stroke="#2a2a2a" stroke-width="0.9"/>
<text transform="translate(275.7,136.3) scale(1,1.15)" font-size="7.0" text-anchor="middle">Wavelength (nm)</text>
<text x="194.1" y="75.8" font-size="8.0" text-anchor="middle" font-weight="normal" transform="rotate(-90 194.1 75.8)">&#916;A</text>
<defs><clipPath id="cb"><rect x="51.5" y="315.5" width="277.0" height="224.5"/></clipPath><clipPath id="cib"><rect x="211.5" y="315.5" width="117.0" height="105.0"/></clipPath></defs>
<g clip-path="url(#cb)">
<path d="M51.8 317.1l1.6 24l1.5 26.6l0.8 10.7l0.7 6.9l1.1 6.8l0.6 2.8l0.6 2.3l0.9 2.2l0.9 2l1 1.6l0.8 0.9l1.3 0.9l1.1 0.6l1 0.3l1 0.1l0.9-0.2l1.2-0.4l2.3-1.2l1.2-0.8l2-1.7l2-2.2l5.5-6.5l5.1-6.4l4-4.8l2.4-2.6l2.3-2l3.6-2.2l2-1.1l2-0.7l1.5-0.3l1.2 0l1.6 0.5l2 1.1l1.6 1.4l2.7 2.9l4 4.8l2.3 2.1l1.2 0.8l0.8 0.3l0.4 0l1.2-0.1l1.6-0.5l1.6-0.8l0.8-0.7l1.1-1.5l2.4-3.5l2.8-3.7l1.6-2.7l1.5-3.7l3.6-9.7l3.9-9.5l2-4.2l2-3.6l1.2-2l1.6-2.1l1.9-1.9l1.2-0.9l0.8-0.3l0.8 0l1.2 0.2l1.2 0.5l2 1l1.1 1.1l1.2 1.3l1.6 2.2l0.8 1.4l0.8 1.8l2.4 6.9l1.1 4.2l0.3 1.4l0.8 2.9l3.5 11.7l4.9 17.3l4.9 20.1l1.5 7.5l7.4 42.5l1.1 5.4l3.7 14.1l1.2 4.4l2 6.7l2.1 8.5l1.7 4.8l1.6 3.9l2.1 4l1.6 2.6l1.7 2.1l2 2l2.4 1.9l1.7 0.9l2 1.1l3.6 1.6l2.3 0.7l3.2 0.8l10.3 1.7l5.1 0.6l7.9 0.8l17 1.2l15.1 0.9l43.8 2" fill="none" stroke="#000" stroke-width="1.0" stroke-linejoin="round"/>
<path d="M51.8 317.1l1.6 23.6l1.5 26.2l0.8 10.4l0.7 6.8l0.6 3.7l0.6 3.7l0.6 2.5l0.7 2.3l0.9 2.4l1.1 2.1l0.8 1.3l1 0.9l1.2 0.9l1.1 0.5l1 0.3l0.9 0l1.1-0.2l1.2-0.4l2.3-1.3l1.2-0.8l1.6-1.4l2-2.1l5.5-6.4l9.5-11.4l2-2.1l1.9-1.7l2-1.3l2.8-1.5l2-0.8l1.9-0.4l1.6 0l0.8 0.2l0.8 0.4l2 1.2l1.6 1.3l3.1 3.5l2.8 3.6l1.2 1.4l2.3 2.2l1.2 0.8l0.8 0.3l0.4 0l1.2-0.1l1.6-0.5l1.6-0.7l0.8-0.7l1.1-1.5l2.4-3.4l2.8-3.7l1.6-2.5l1.5-3.4l3.6-8.7l4.7-10.7l2.8-5.2l2-3.2l1.2-1.6l1.5-1.6l1.2-1.1l0.8-0.5l0.8-0.3l1.2 0l1.6 0.3l1.6 0.6l1.1 0.8l1.2 1l1.6 1.8l1.2 1.7l1.2 2.5l1.2 2.9l0.8 2.2l1.1 3.8l0.7 2.7l3.5 11.8l5.4 18.6l4.9 20.1l1.5 7.5l7.4 42.5l1.2 5.4l3.6 14.1l1.2 4.4l2 6.7l2.1 8.4l1.6 4.9l1.7 3.8l2 4l1.7 2.6l1.6 2l2 2.1l2.5 1.8l1.6 0.9l2 1.1l3.6 1.6l2.3 0.7l3.2 0.8l10.3 1.7l5.1 0.6l7.9 0.8l17 1.2l15.1 0.9l43.8 2" fill="none" stroke="#000" stroke-width="1.0" stroke-linejoin="round"/>
<path d="M51.8 317.1l1.6 23.3l1.5 25.6l1 11.7l0.6 6l1.2 6.8l0.6 2.7l0.7 2.2l1.1 2.5l1 1.9l0.9 1.4l1.1 0.9l1.2 0.9l1 0.5l0.8 0.2l1 0l0.9-0.2l1.2-0.4l2.3-1.2l1.2-0.8l1.6-1.4l2-2.1l5.9-6.6l9.1-10.8l2-2.1l1.6-1.3l1.9-1.3l2.8-1.5l2-0.6l2.3-0.3l1.6 0.1l0.8 0.3l0.8 0.4l2 1.4l1.6 1.5l3.1 3.7l2.8 3.7l1.2 1.4l2.3 2.3l1.2 0.9l0.8 0.3l1.2-0.1l1.6-0.4l2-0.9l0.8-0.6l0.7-1l2.8-4l2.4-3.1l1.6-2.5l1.5-3.1l4-9.2l5.1-11.2l2.8-5.2l2-3l0.8-1l1.9-2.1l1.2-1l0.8-0.4l1.2-0.2l1.2 0l1.6 0.3l1.2 0.5l1.1 0.7l1.6 1.5l1.6 1.8l0.8 1.3l1.2 2.4l1.2 2.9l1.5 4.7l9.6 32.9l5 20.1l1.5 7.5l7.4 42.5l1.2 5.4l3.6 14.1l3.2 11.1l2.1 8.4l1.6 4.8l1.6 3.8l2.1 4l1.6 2.6l1.6 2l2.1 2l2.4 1.8l3.6 2l3.6 1.6l2.4 0.7l3.1 0.8l10.3 1.7l5.1 0.6l7.9 0.8l17 1.2l15.1 0.8l43.8 2.1" fill="none" stroke="#000" stroke-width="1.0" stroke-linejoin="round"/>
<path d="M51.8 317.1l1.6 22.9l1.5 25.1l1 11.5l0.6 5.9l1.2 6.7l0.6 2.6l0.7 2.2l1.1 2.7l1.1 2.1l1 1.3l1.2 1.1l1.1 0.7l0.9 0.5l0.8 0.3l1 0l1.2-0.3l1.2-0.5l1.9-1l1.2-0.8l1.6-1.3l2-2l5.9-6.5l9.1-10.5l2-2.1l1.6-1.3l1.9-1.3l2.8-1.3l1.6-0.5l2.3-0.1l1.2 0.1l0.8 0.2l0.8 0.4l0.8 0.5l2 1.5l1.6 1.6l3.1 3.9l2.8 3.8l1.2 1.5l2.3 2.4l1.2 0.9l0.8 0.3l1.2 0l1.6-0.4l2-0.9l0.8-0.7l1.1-1.5l2-2.9l2.8-3.8l1.6-2.4l1.5-3.2l3.6-8l5.5-11.8l2.8-5.1l2-3.1l1.2-1.5l1.5-1.7l1.2-1l0.8-0.4l1.2-0.3l1.6 0l1.6 0.2l1.2 0.5l1.5 1.1l1.6 1.5l1.2 1.4l1.2 2.1l1.6 3.4l0.8 2.1l3.4 11.3l7.4 25.4l5 20.2l1.1 5.9l7.4 42.5l1.2 5.4l3.6 14.1l3.2 11.1l2.1 8.4l1.6 4.8l1.6 3.8l2 3.9l1.7 2.6l1.6 2l2 2l2.4 1.8l3.6 1.9l3.6 1.6l2.4 0.7l3.1 0.8l10.3 1.6l5.1 0.7l7.9 0.8l17 1.2l15.1 0.8l43.8 2.1" fill="none" stroke="#000" stroke-width="1.0" stroke-linejoin="round"/>
<path d="M51.8 317.1l1.6 22.6l1.5 24.8l1.1 12.4l0.4 3.6l0.5 3.2l0.8 4.2l0.8 3.2l0.9 2.7l1.3 2.7l1 1.7l1 1.2l1.9 1.5l0.8 0.4l0.7 0.3l1.2 0.1l1.5-0.4l2.7-1.3l2-1.4l2.4-2.2l5.5-5.9l9.9-11.2l2-2l1.6-1.4l1.5-1l2.4-1.1l1.6-0.5l1.2-0.1l1.2 0l1.1 0.2l1.2 0.3l1.2 0.5l2 1.6l1.2 1.1l1.6 1.8l2.7 3.6l2.8 4l1.2 1.5l2.3 2.5l1.2 0.9l0.8 0.3l1.2 0l1.6-0.4l2-0.9l0.8-0.6l1.1-1.5l2-2.9l2.8-3.9l1.6-2.5l1.5-3.1l3.6-7.7l6.3-13.1l1.6-2.9l1.6-2.6l1.2-1.7l1.6-1.9l1.5-1.5l1.2-0.8l1.6-0.4l2-0.1l1.6 0.4l1.1 0.5l1.6 1.2l2 2.1l1.2 1.8l1.2 2.4l1.2 2.7l0.7 2.3l2.7 8.8l6.7 22.6l1.1 4.2l4.3 17.2l0.7 3.5l8.6 48.5l0.8 3.4l3.6 14.1l3.2 11.1l2 8.3l1.3 3.8l1.2 3l1.6 3.5l1.2 2.3l1.2 1.9l1.6 2.1l1.6 1.7l1.6 1.4l2 1.3l2.8 1.5l3.2 1.5l2.8 0.9l2.7 0.7l3.2 0.6l6.3 1l5.2 0.7l13 1.3l15.8 1.1l13.8 0.7l42.7 2" fill="none" stroke="#000" stroke-width="1.0" stroke-linejoin="round"/>
<path d="M51.8 317.1l1.6 21.9l1.5 23.6l1.1 11.7l0.4 3.5l0.6 3.4l0.8 4.2l0.8 3.1l1 2.7l1.3 2.9l1 1.7l1.1 1.2l1.8 1.5l0.8 0.5l0.6 0.3l1.3 0.1l1.3-0.3l2.7-1.3l2-1.2l2.4-2.1l5.9-6l9.5-10.2l2-1.9l1.6-1.3l1.5-0.9l1.6-0.6l2-0.5l0.8-0.1l1.2 0.1l2.3 0.5l1.6 0.8l1.6 1.2l1.6 1.5l1.6 1.9l3.1 4.3l2.8 4.1l1.2 1.5l2.3 2.6l1.2 0.9l0.8 0.4l1.2 0l1.6-0.4l1.6-0.7l0.8-0.5l1.1-1.3l4.8-6.8l1.6-2.5l1.9-3.7l8.7-17.8l2-3.8l1.6-2.8l1.2-1.8l1.2-1.7l1.5-1.8l1.6-1.5l1.2-0.6l2-0.6l2 0l1.2 0.3l1.5 0.9l2 1.5l1.2 1.3l1.2 1.8l1.2 2.3l0.8 1.7l0.7 2.2l2.4 7.3l7 24l1.2 4.2l4.3 17.2l0.7 3.5l8.7 48.4l0.7 3.5l4 15.6l2.8 9.5l2 8.4l1.2 3.7l1.2 3.1l1.6 3.4l1.2 2.3l1.2 1.9l1.2 1.6l1.6 1.8l1.6 1.4l2 1.4l2.8 1.5l3.6 1.7l2.8 0.9l2.7 0.7l3.2 0.6l6.3 1l5.2 0.7l13 1.2l15.8 1.2l13.8 0.7l42.7 2" fill="none" stroke="#000" stroke-width="1.0" stroke-linejoin="round"/>
<path d="M51.8 317.1l1.6 21.3l1.5 22.7l1.2 12.3l0.5 3.3l0.5 3.2l0.8 3.9l0.8 2.9l1.3 3.2l1.2 2.7l1 1.5l1.3 1.5l1.7 1.3l0.6 0.4l0.7 0.3l0.7 0.1l0.6 0l1.4-0.4l2.3-1l2-1.3l2.4-1.9l5.9-5.8l6.7-6.8l3.2-3.4l1.6-1.4l1.6-1.2l1.1-0.7l1.6-0.5l2-0.4l0.8-0.1l1.2 0.2l1.6 0.4l1.1 0.4l1.6 0.9l1.6 1.4l1.6 1.6l1.6 2l3.1 4.5l3.6 5.3l2.4 2.7l1.1 1.2l0.8 0.5l0.4 0.1l0.8 0.1l1.6-0.4l2-0.8l0.8-0.5l1.1-1.3l4.4-6.2l1.6-2.5l1.9-3.6l6.4-12.3l3.5-7.2l1.6-3l1.2-2l1.6-2.4l2.3-3l1.6-1.5l1.2-0.7l2-0.7l1.2-0.2l0.8 0l0.8 0.1l0.7 0.3l1.6 0.8l2 1.5l1.2 1.3l1.6 2.4l1.2 2.4l0.7 2l1.6 4.6l7.9 26.6l1.5 5.8l2 8l1.9 7.6l1.2 5.4l8.3 46.5l0.8 3.5l3.9 15.5l2.8 9.6l2 8.4l1.2 3.7l1.2 3l1.6 3.5l1.2 2.2l1.2 1.9l1.2 1.6l1.6 1.8l1.6 1.4l2 1.4l2.7 1.5l3.6 1.6l2.8 0.9l2.7 0.7l3.2 0.6l6.3 1l5.2 0.7l13 1.2l15.8 1.1l13.8 0.8l42.7 2" fill="none" stroke="#000" stroke-width="1.0" stroke-linejoin="round"/>
<path d="M51.8 317.1l1.6 20.7l1.5 21.7l1.2 11.8l0.5 3.2l0.5 3.1l0.8 3.8l0.8 2.9l1.3 3.3l1.3 2.8l1 1.7l1.5 1.7l1.6 1.4l1.3 0.6l0.6 0.1l0.6 0l1.7-0.5l2.3-1l2-1.3l2-1.6l6.3-5.8l6.3-6.1l3.2-3.3l1.6-1.4l1.6-1.1l1.1-0.6l1.2-0.4l2-0.3l0.8 0l1.2 0.3l2.3 0.9l2 1.1l1.6 1.4l2 2.2l1.2 1.6l3.5 5.3l3.6 5.5l2.4 2.8l1.1 1.2l0.8 0.5l0.4 0.2l0.8 0l1.6-0.3l2-0.8l0.8-0.5l1.1-1.3l4-5.8l1.6-2.5l1.6-2.7l6.7-12.6l3.9-7.9l2-3.6l2.8-4.3l2.3-3l0.8-0.8l0.8-0.6l1.6-0.8l2-0.6l1.6-0.2l1.5 0.4l1.6 0.8l2 1.4l1.2 1.2l1.2 1.7l1.2 2.1l0.7 2l2 5.7l7.9 26.6l4.7 18.5l1.2 5.1l0.8 4l7.9 44.4l0.8 3.5l3.9 15.5l2.8 9.6l2 8.3l1.2 3.7l1.2 3.1l1.6 3.4l1.1 2.2l1.2 1.9l1.2 1.6l1.6 1.7l1.6 1.4l2 1.4l2.7 1.5l3.6 1.6l2.8 0.9l2.7 0.7l3.2 0.6l6.3 1l5.2 0.7l13 1.2l15.8 1.1l13.8 0.8l42.7 2" fill="none" stroke="#000" stroke-width="1.0" stroke-linejoin="round"/>
<path d="M51.8 317.1l1.6 20.1l1.5 20.9l1.2 11.2l1 6.2l0.8 3.7l0.8 2.9l1.4 3.6l1.4 3l1.1 1.7l1.6 1.9l1.4 1.2l1.2 0.6l1.1 0.1l1.7-0.4l2.3-1l2-1.2l2.4-1.8l6.3-5.5l5.9-5.6l3.2-3.2l2-1.7l1.5-1.1l1.2-0.6l1.2-0.2l1.6-0.1l0.8 0.1l0.8 0.3l2.4 1.5l1.9 1.6l1.6 1.8l2 2.7l1.6 2.4l7.1 12l3.1 4l1.2 1l0.8 0.2l1.6-0.2l1.6-0.6l1.2-0.6l1.2-1.1l1.1-1.6l3.2-5l2-3.6l3.1-6.3l5.2-9.8l5.1-10.1l1.2-2l2-3l2.3-3.1l1.2-1.1l2-1.2l2-0.9l1.6-0.3l0.8 0.1l1.1 0.3l2 0.9l1.6 0.9l0.8 0.7l0.8 1l1.2 1.6l0.8 1.6l1.1 3l1.2 3.4l8.4 28.2l4.7 18.6l0.8 3.5l0.8 4l7.9 44.4l0.8 3.5l3.9 15.5l2.8 9.6l2 8.3l1.2 3.7l1.1 3l1.6 3.4l1.2 2.2l1.2 1.9l1.2 1.6l1.5 1.7l1.6 1.4l2 1.3l2.8 1.5l3.5 1.6l2.8 0.9l2.7 0.7l3.2 0.6l6.3 1l5.2 0.7l13 1.2l15.8 1.1l13.8 0.8l42.7 2" fill="none" stroke="#000" stroke-width="1.0" stroke-linejoin="round"/>
<path d="M51.8 317.1l1.6 19.6l1.5 19.9l1.2 10.9l0.5 2.8l0.6 3.7l0.9 3.6l0.8 2.7l1.5 3.9l1.2 2.6l1.1 1.8l1.7 2l1.3 1.1l0.7 0.5l0.5 0.2l1 0.1l1.7-0.4l2.3-0.9l2-1.1l2.4-1.7l6.7-5.6l5.5-4.9l3.6-3.5l2-1.6l1.1-0.7l1.2-0.5l1.2-0.2l1.6 0l0.8 0.3l0.8 0.4l2.4 1.6l1.9 1.9l1.6 1.9l2 2.8l1.6 2.5l6.7 11.7l1.2 1.8l2.3 3l0.8 0.7l0.8 0.4l0.8 0.1l0.8-0.2l1.6-0.5l1.6-0.7l1.2-1.1l1.1-1.6l2.8-4.4l1.6-2.8l3.9-7.7l5.6-9.9l4.7-9.2l1.2-2l2-3.1l2.3-3.1l0.8-0.8l0.8-0.7l2.4-1.5l1.6-0.7l0.8-0.2l0.8 0l0.7 0l1.2 0.3l2.4 0.9l0.8 0.4l0.8 0.6l1.2 1.2l0.8 1.1l0.8 1.4l1.2 2.8l1.1 3.4l8.4 28.2l4.8 18.6l0.8 3.5l0.8 4l7.9 44.4l0.8 3.5l4 15.5l2.7 9.5l2 8.4l1.1 3.6l1.2 3.1l1.6 3.3l1.2 2.2l1.1 1.9l1.2 1.6l1.6 1.7l1.5 1.3l2 1.4l2.8 1.4l3.5 1.6l2.8 0.9l2.7 0.7l3.2 0.6l6.3 1l5.2 0.7l13 1.2l15.8 1.1l13.8 0.8l42.7 2" fill="none" stroke="#000" stroke-width="1.0" stroke-linejoin="round"/>
<path d="M51.8 317.1l3.1 38l1.2 10.4l1.1 6.4l0.9 3.4l0.8 2.7l1.6 4.2l1.2 2.8l1.1 1.8l1.8 2.1l1.4 1.2l1.1 0.6l0.7 0.1l0.6-0.1l2.3-0.7l2.4-1l2-1.2l8.7-6.8l4.7-3.9l3.6-3.4l1.6-1.2l1.2-0.8l1.1-0.6l0.8-0.1l1.2 0l1.2 0.1l0.8 0.3l0.8 0.5l2 1.6l1.9 1.9l1.6 1.9l1.6 2.3l2 3.1l7.1 12.8l1.2 1.7l2.3 3.1l0.8 0.8l0.8 0.4l1.2 0l1.6-0.4l2-0.9l0.8-0.7l1.1-1.5l2.8-4.4l1.6-2.7l3.9-7.8l6-10.6l5.1-9.9l3.2-4.9l1.2-1.6l1.1-1.4l1.2-1.1l2.8-1.8l1.6-0.7l1.2-0.2l1.1 0.1l1.2 0.3l2.8 1.1l1.2 0.8l1.2 1.2l0.8 1.1l1.2 2.5l1.2 3.2l0.8 2.4l8 27l4.8 18.6l0.8 3.5l0.8 4l7.9 44.4l0.8 3.5l4 15.5l2.7 9.5l1.9 8.3l1.2 3.7l1.2 3l1.5 3.4l1.2 2.2l1.2 1.8l1.1 1.6l1.6 1.6l1.6 1.4l1.9 1.3l2.8 1.4l3.5 1.6l2.8 0.9l2.7 0.7l3.2 0.6l6.3 1l5.2 0.7l13 1.2l15.8 1.1l13.8 0.8l42.7 2" fill="none" stroke="#000" stroke-width="1.0" stroke-linejoin="round"/>
<path d="M51.8 317.1l3.1 36.2l1.2 9.8l1.1 6.1l0.9 3.4l0.8 2.7l1.8 4.6l1.2 2.8l1.1 1.8l1.9 2.4l1.2 1.2l1.1 0.6l0.6 0.1l0.6-0.1l2.3-0.6l2.4-1l2-1.1l9.5-6.9l3.9-3.1l3.6-3.2l2.4-1.6l1.1-0.6l0.8-0.2l1.2 0.1l1.2 0.2l0.8 0.3l0.8 0.4l2 1.7l1.9 2l2 2.5l1.6 2.3l2 3.3l7.1 13l1.2 1.8l1.9 2.7l1.2 1.2l0.8 0.5l1.2 0l1.2-0.3l2-0.8l0.8-0.5l1.1-1.4l1.2-1.7l3.2-5.3l3.9-8l6.4-11.5l3.5-7l1.6-2.9l3.2-4.9l1.2-1.6l1.1-1.4l1.2-1.1l2.8-1.9l1.6-0.7l1.2-0.2l1.1 0.1l1.2 0.2l2.8 1l1.2 0.8l1.6 1.7l0.8 1.3l0.8 1.8l1.2 3l0.8 2.5l8 27l4.9 18.6l0.8 3.5l0.8 4l5.6 30.9l2.4 13.5l0.8 3.5l3.9 15.5l2.7 9.5l1.9 8.3l1.2 3.7l1.1 3l1.6 3.3l1.2 2.2l1.1 1.8l1.2 1.5l1.5 1.7l1.6 1.3l1.9 1.3l2.8 1.4l3.5 1.6l2.8 0.9l2.7 0.7l3.2 0.6l6.3 1l5.6 0.7l13 1.2l15.4 1.1l13.8 0.8l42.7 2" fill="none" stroke="#000" stroke-width="1.0" stroke-linejoin="round"/>
<path d="M51.8 317.1l3.1 34.3l1.2 9.4l1.2 6.2l0.8 3.2l0.9 2.9l1.9 4.8l1.2 2.7l0.9 1.6l2.2 2.8l1 1.1l1.1 0.6l0.5 0.1l0.6-0.1l1.6-0.3l2.3-0.8l2-0.9l2.4-1.4l8.3-5.6l3.5-2.7l3.2-2.7l2.4-1.6l1.1-0.6l0.8-0.2l0.8 0l1.2 0.2l1.6 0.6l1.2 0.9l2.7 2.7l2.4 2.9l1.6 2.4l2.4 4l7.1 13.2l1.2 1.9l2.3 3.1l0.8 0.8l0.8 0.5l1.2 0l1.2-0.3l2-0.8l0.8-0.5l1.1-1.4l1.2-1.8l2.8-4.6l4.7-9.7l6-10.8l4.7-9.3l1.2-2l2.4-3.6l1.2-1.6l1.1-1.4l1.2-1.1l2.8-1.9l1.6-0.7l1.2-0.2l1.1 0l1.2 0.3l2.8 0.9l1.2 0.8l1.6 1.6l0.8 1.3l0.8 1.8l1.2 3l0.8 2.5l8.1 27l4.8 18.6l0.9 3.5l0.8 4l5.6 30.9l2.4 13.5l0.8 3.5l3.9 15.5l2.7 9.5l1.9 8.3l0.8 2.5l1.1 3.2l1.2 2.6l1.5 3.1l1.2 2l1.1 1.6l1.6 1.7l1.5 1.4l2 1.3l2.3 1.3l3.9 1.7l3.2 1.1l2.7 0.7l3.2 0.6l6.3 1l5.2 0.7l13 1.2l15.8 1.1l13.8 0.8l42.7 2" fill="none" stroke="#000" stroke-width="1.0" stroke-linejoin="round"/>
<path d="M51.8 317.1l3 31.5l1.1 8.3l0.9 5.6l0.8 3.7l0.9 2.9l2.6 7l0.8 1.9l0.8 1.6l2.5 3.5l0.8 0.9l0.7 0.6l0.6 0.3l0.6 0.1l1.3-0.1l1.1-0.3l3.2-1.1l2.8-1.4l8.7-5.5l3.5-2.4l3.2-2.7l2.4-1.5l1.1-0.5l0.8-0.1l0.8 0l1.2 0.4l1.6 0.7l1.2 1l2.7 2.9l2.4 3l1.6 2.4l2.4 4.1l5.9 11.3l1.6 2.8l3.1 4.4l0.8 0.8l0.8 0.4l0.8 0l1.2-0.2l1.2-0.4l1.6-0.7l1.2-1.1l1.1-1.7l3.2-5.3l4.7-9.9l6-10.9l4.7-9.2l1.2-2.1l2.4-3.6l1.2-1.6l1.1-1.4l1.2-1.1l2.8-1.9l1.6-0.8l1.2-0.2l1.1 0.1l1.2 0.2l2.8 0.9l1.2 0.7l1.6 1.7l0.8 1.2l0.8 1.8l1.2 3l0.8 2.5l8.1 27l4.9 18.6l0.9 3.5l0.8 4l5.6 30.9l2.4 13.5l0.8 3.5l3.9 15.5l2.7 9.5l1.9 8.2l0.8 2.5l1.1 3.2l1.2 2.7l1.5 3l1.1 2l1.2 1.6l1.5 1.7l1.6 1.3l1.9 1.4l2.3 1.2l3.9 1.7l3.2 1.1l2.7 0.7l3.2 0.6l6.3 1l5.2 0.7l13 1.2l15.8 1.1l13.8 0.7l42.7 2.1" fill="none" stroke="#000" stroke-width="1.0" stroke-linejoin="round"/>
<path d="M51.8 317.1l3 29.5l1.1 7.7l1.1 5.9l0.7 3.1l0.9 3.1l2.9 7.7l1.3 3l2.6 3.7l0.7 0.8l0.7 0.6l0.5 0.3l0.6 0.2l2.1-0.3l3.5-1l2.8-1.3l9.1-5.1l3.1-2l3.2-2.5l2-1.1l1.2-0.5l0.7-0.2l0.8 0.1l0.8 0.2l2 1l1.2 1l3.1 3.4l2 2.5l2 3.1l2.4 4.1l5.9 11.3l1.6 2.9l3.1 4.4l0.8 0.8l0.8 0.5l0.8 0l1.2-0.2l1.2-0.4l1.6-0.8l1.2-1.1l1.1-1.7l3.2-5.3l4.7-10.1l6-11l4.7-9.2l1.2-2.1l2.4-3.6l1.2-1.6l1.1-1.4l1.2-1.1l2.8-1.9l1.6-0.8l1.2-0.2l1.1 0.1l1.2 0.2l2.8 0.9l1.2 0.7l1.6 1.7l0.8 1.2l0.8 1.8l1.2 3l0.8 2.5l8.2 27l4.9 18.6l0.8 3.5l0.9 4l5.6 30.9l2.4 13.5l4.7 18.9l2.7 9.5l1.9 8.3l0.7 2.5l1.2 3.2l1.1 2.6l1.5 3l1.2 2l1.1 1.5l1.5 1.7l1.6 1.4l1.9 1.3l2.3 1.2l3.9 1.7l3.2 1.1l2.7 0.7l3.2 0.6l6.3 1l5.2 0.6l13 1.3l15.8 1.1l13.8 0.7l42.7 2.1" fill="none" stroke="#000" stroke-width="1.0" stroke-linejoin="round"/>
<path d="M51.8 317.1l3 27.9l1.1 7.1l1.1 5.6l0.7 3l0.9 3l3.1 8.6l1.3 2.6l1.7 2.8l1 1.3l1.2 1.3l0.6 0.3l0.5 0.1l1.2-0.1l1.1-0.2l3.6-1l2.4-1l9.5-4.8l2.7-1.6l3.2-2.3l2-1l0.8-0.4l0.7-0.2l0.8 0l0.8 0.3l2 1.1l1.2 0.9l3.5 4.1l2 2.5l2 3.1l2.4 4.2l5.9 11.4l1.6 2.9l3.1 4.4l0.8 0.9l0.8 0.4l0.8 0.1l1.2-0.3l1.2-0.4l1.6-0.7l1.2-1.2l1.1-1.6l3.2-5.4l4.7-10.2l6-11.1l4.7-9.3l1.2-2.1l2.4-3.6l1.2-1.6l1.1-1.4l1.2-1.1l2.8-1.9l1.6-0.8l1.2-0.2l1.1 0.1l1.2 0.2l2.8 0.9l1.2 0.7l1.6 1.7l0.4 0.5l1.2 2.5l1.3 3l0.8 2.5l8.1 27l5 18.6l0.8 3.5l1.3 6.2l5.3 28.7l2.3 13.5l4.7 18.9l2.7 9.5l1.9 8.3l0.7 2.5l1.2 3.1l1.1 2.7l1.5 3l1.1 1.9l1.2 1.5l1.5 1.7l1.5 1.3l1.9 1.3l2.4 1.2l3.9 1.7l3.1 1.1l2.7 0.7l3.2 0.6l6.3 1l5.2 0.6l13 1.3l15.8 1.1l13.8 0.7l42.7 2.1" fill="none" stroke="#000" stroke-width="1.0" stroke-linejoin="round"/>
</g>
<rect x="211.5" y="315.5" width="117.0" height="105.0" fill="#fff"/>
<g clip-path="url(#cib)">
<path d="M211.2 373.9l0.6 0.4l0.4 0.1l5.6 0l5.7 0.2l6.1 0.5l6 0.8l2.2 0l0.8 0.3l1.7 1.2l1.4 0.6l1.9 0.7l2.8 0.7l9.7 1.9l11.6 1.2l0.9 0l1-0.2l3.5-1l2-0.8l3.3-1.5l2.1-1.2l2.2-1.7l3.9-2.8l1.6-0.7l0.9-0.3l0.8 0.1l1.2 0.4l1.2 0.5l1.7 1.2l0.8 0.4l2 0.5l1.7 0.3l13.1 0.4l16.6 0.1" fill="none" stroke="#000" stroke-width="1.1" stroke-linejoin="round"/>
<path d="M211.2 369.9l0.6 0.9l0.4 0.3l1.2 0.1l4.4-0.1l3.4 0.3l2.9 0.4l2.3 0.5l3.6 1l5.8 2.1l0.6 0.1l1.4 0.1l0.4 0.2l0.4 0.4l1.5 2l1.6 1.2l1.9 1.2l2.8 1.3l3.9 1.4l4.1 1.6l1.7 0.6l2.2 0.4l4.9 0.9l2.7 0.5l1.6 0.2l0.7 0.1l0.8-0.2l1-0.4l1-0.5l3.3-2l3.9-3.1l1.4-1.2l0.9-1.1l2.2-3.1l3.9-5.1l1.6-1.2l0.9-0.5l0.8 0.1l1.2 0.8l1.2 1l1.7 2l0.8 0.7l2 1l1.7 0.5l5.3 0.4l7.8 0.3l7.8 0.1l8.8 0.1" fill="none" stroke="#000" stroke-width="1.1" stroke-linejoin="round"/>
<path d="M211.2 363.8l0.6 1.9l0.2 0.3l0.4 0.2l0.6 0.1l0.7 0l3.6-0.2l2.5 0.3l2.2 0.5l1.7 0.5l1.6 0.6l1.7 0.8l2.2 1.2l1.9 1.2l4.7 3.5l0.6 0.3l1.2 0.1l0.4 0.3l0.7 1.2l1.2 2.1l1.2 1.5l1.2 1.2l1.1 1l3 2l3.9 2l4.1 2.4l1.7 0.8l2.2 0.7l4.9 1.2l2.7 0.8l1.6 0.3l0.7 0l0.8-0.2l1-0.5l1-0.8l2.1-1.8l1.2-1.1l3.9-4.5l1.4-1.8l0.9-1.5l2.2-4.5l3.9-7.3l0.6-0.8l1-1.1l0.6-0.4l0.3-0.2l0.4 0l0.4 0.2l0.6 0.4l0.6 0.7l1.2 1.4l1.7 2.9l0.8 1l2 1.5l0.9 0.5l0.8 0.3l5.3 0.5l7.8 0.4l7.8 0.2l8.8 0.1" fill="none" stroke="#000" stroke-width="1.1" stroke-linejoin="round"/>
<path d="M211.2 357.3l0.6 2.9l0.2 0.5l0.4 0.3l0.6 0.2l0.7 0l3.8-0.4l2.9 0.7l2.1 0.7l2 1l1.4 0.9l2.1 1.7l1.8 1.5l1.5 1.5l4.5 5.2l0.6 0.5l1.2 0.4l0.4 0.4l0.7 1.3l1.4 2.9l1.8 2.6l1.3 1.7l1.2 1l1.2 0.8l1.9 1.2l6.5 3.2l1.5 0.7l2.2 0.7l4.7 1.1l3.3 1.3l1 0.3l1 0l0.7-0.1l0.8-0.4l0.8-0.5l4.1-3.9l4.3-5l1.2-1.7l0.9-1.7l2-4.6l4.1-8.6l0.6-0.9l1-1.2l0.6-0.5l0.3-0.2l0.4 0l0.4 0.2l0.6 0.5l0.6 0.8l1.2 1.6l1.7 3.3l0.8 1.1l2 1.6l0.9 0.6l0.8 0.3l0.8 0.2l3.5 0.3l7.8 0.5l8.4 0.3l9.2 0.1" fill="none" stroke="#000" stroke-width="1.1" stroke-linejoin="round"/>
<path d="M211.2 350.8l0.6 3.9l0.2 0.7l0.4 0.3l0.6 0.3l0.7 0.1l1.8-0.2l1.4-0.4l0.6 0l1.7 0.5l1.2 0.4l2.1 1.1l2 1.3l1.6 1.3l2.1 2.3l1.8 2.1l1.5 2.1l4.3 6.7l0.6 0.7l1.2 0.7l0.4 0.4l0.7 1.6l1.2 3l1.2 2.7l1.4 2.9l0.7 1.2l1.6 1.5l1.4 1l1.3 0.8l6.3 2.7l2.7 0.8l5.7 1.1l1 0.4l2.5 1.5l0.8 0.3l0.8 0l0.7-0.2l0.6-0.2l0.8-0.7l5.7-6.2l2.7-3.3l1-1.3l1-1.7l0.9-2l1.8-4.8l4.1-10.2l0.6-1l1-1.5l0.6-0.6l0.3-0.2l0.4 0l0.4 0.2l0.6 0.6l0.6 0.9l1.2 2l1.7 3.8l0.8 1.3l1 1.1l1 0.9l0.9 0.7l1 0.5l3.9 0.6l6.9 0.4l8.9 0.4l9.8 0.1" fill="none" stroke="#000" stroke-width="1.1" stroke-linejoin="round"/>
<path d="M211.2 349.7l0.6 4.1l0.2 0.7l0.6 0.5l0.6 0.2l0.5 0l1.8-0.2l1.6-0.4l0.9 0.1l2.2 0.8l1.9 0.9l1.8 1.2l1.6 1.3l2.7 2.9l2.5 3.2l1.8 2.7l3.5 5.8l0.8 0.8l1 0.6l0.4 0.4l0.4 0.9l0.3 1.5l0.8 3.9l0.8 4.6l1.4 9.3l1.1 6.3l0.8 1.9l1 1.4l0.4 0.4l0.8 0.4l1.3 0.6l0.6 0l0.8-0.1l2-0.5l7.6-4.6l1.9-0.7l1.4-0.3l0.6 0l0.6 0.6l1.7 2.7l1 1.7l0.6 0.8l0.4 0.2l0.2 0l0.6-0.5l1.5-2.7l2-5l1.3-2.8l0.8-1.3l0.6-0.8l0.8-0.8l3.3-2.6l0.6-0.5l0.6-0.9l0.6-1.3l1.1-3.3l0.8-2.8l3.3-13.6l2-8.9l1.6-4.4l0.6-1.2l0.3-0.3l0.4-0.1l0.4 0.5l0.8 1.7l1.2 3.3l1.7 6.6l1 2.9l0.8 1.9l0.6 1.2l1 1.4l0.9 1.1l1 0.8l1.4 0.6l1.3 0.6l1 0.2l1.4 0.1l11.7 0.5l12.5 0.3" fill="none" stroke="#000" stroke-width="1.1" stroke-linejoin="round"/>
<path d="M211.2 348.6l0.6 4.3l0.2 0.7l0.6 0.5l0.6 0.2l0.5 0.1l1.8-0.3l1.6-0.4l0.9 0.2l2.2 0.7l1.9 1l1.8 1.2l1.6 1.4l2.7 3l2.5 3.4l1.8 2.7l3.5 6.1l0.6 0.7l1.2 0.8l0.4 0.4l0.4 1l0.3 1.4l0.8 4.1l0.8 4.9l1.4 10l1.1 6.8l0.8 1.9l1 1.6l0.4 0.3l0.6 0.4l1.3 0.5l0.6 0.1l0.8-0.1l2-0.7l2.7-1.9l2.9-2.3l2.2-1.4l0.8-0.4l1.1-0.5l1.4-0.3l0.6 0l0.6 0.6l1.7 2.9l1 1.8l0.6 0.8l0.4 0.2l0.2 0l0.6-0.5l1.3-2.5l2.2-5.7l1.3-2.9l0.8-1.4l0.6-0.9l0.8-0.7l3.3-2.4l0.6-0.5l0.6-0.8l0.6-1.4l1.1-3.3l1-3.6l3.1-13.4l2-9.2l1.6-4.6l0.6-1.2l0.3-0.4l0.4 0l0.4 0.4l0.8 1.8l1.2 3.5l1.7 6.8l1 3l0.8 2l0.6 1.2l1 1.5l0.9 1.2l1 0.8l1.4 0.7l1.1 0.5l1 0.3l1.2 0.1l3.7 0.2l8 0.3l12.9 0.3" fill="none" stroke="#000" stroke-width="1.1" stroke-linejoin="round"/>
<path d="M211.2 347.5l0.6 4.4l0.2 0.8l0.6 0.6l0.6 0.2l0.5 0l1.8-0.2l1.6-0.5l0.9 0.2l2.2 0.8l1.9 1l1.8 1.2l1.6 1.5l2.7 3.1l2.5 3.5l1.8 2.9l3.5 6.3l0.6 0.7l1.2 0.8l0.4 0.5l0.4 1l0.3 1.5l0.8 4.2l0.8 5.2l1.4 10.7l0.8 5.2l0.3 2l0.8 2l1 1.6l0.8 0.6l1.4 0.5l0.7 0.1l0.6-0.1l0.8-0.2l1.4-0.6l2.5-2.1l2.9-2.6l2.2-1.6l1.4-0.8l1.3-0.6l0.8-0.2l0.6 0l0.6 0.6l1.7 3.1l1 2l0.6 0.8l0.4 0.3l0.2-0.1l0.6-0.6l1.5-3.1l2.2-6.1l1.1-2.5l0.8-1.5l0.6-0.8l0.8-0.8l3.3-2.1l0.6-0.5l0.6-0.8l0.6-1.4l1.1-3.4l1-3.7l3-12.9l2.1-10.5l1.6-4.8l0.6-1.2l0.3-0.5l0.4 0l0.4 0.5l0.8 1.9l1.2 3.6l1.7 7.1l1 3.1l0.8 2.1l0.6 1.2l1 1.6l0.9 1.2l1 0.8l1.4 0.8l1.1 0.5l1 0.3l1 0.1l3.7 0.2l8 0.3l13.1 0.3" fill="none" stroke="#000" stroke-width="1.1" stroke-linejoin="round"/>
<path d="M211.2 340.5l0.6 5.5l0.2 0.9l0.6 0.7l0.6 0.3l0.5 0l1.8-0.3l1.6-0.5l0.9 0.2l2.2 1l1.9 1.3l1.8 1.5l1.6 1.8l2.9 4.2l2.5 4.4l1.6 3.2l2.9 6.7l0.8 1.5l0.6 0.9l1 0.9l0.4 0.5l0.4 1.1l0.3 1.5l0.8 4.5l0.8 5.4l1.4 11.2l0.8 5.5l0.3 2.2l0.8 2.1l0.8 1.4l0.6 0.6l1.4 0.6l0.7 0.2l0.8-0.1l0.8-0.2l1.4-0.7l1.1-1l4.5-4.3l2.2-1.8l1.4-0.9l1.3-0.7l0.8-0.2l0.6 0l0.6 0.7l3.1 6l0.4 0.4l0.2 0l0.2 0l0.4-0.4l0.6-1l0.9-2.1l2.2-6.4l1.3-3.1l0.8-1.5l0.6-0.9l0.8-0.7l3.3-2l0.6-0.4l0.6-0.9l0.6-1.4l1.1-3.5l1-3.8l3-13.3l2.1-10.9l1.6-5l0.6-1.2l0.3-0.5l0.2 0l0.2 0l0.4 0.5l0.8 2l1.2 3.7l1.7 7.4l1.2 3.7l0.8 2.1l0.6 1.2l1.1 1.7l1 1.2l0.8 0.6l1.2 0.7l1.1 0.5l1 0.3l1.2 0.1l3.5 0.2l8.4 0.3l12.7 0.3" fill="none" stroke="#000" stroke-width="1.1" stroke-linejoin="round"/>
<path d="M211.2 334.6l0.6 6.4l0.2 1.1l0.4 0.6l0.6 0.4l0.7 0.1l1.8-0.3l1.4-0.6l0.6 0l0.5 0.2l1.8 0.9l2.3 1.7l2.2 2.3l1.6 2.2l2.7 4.7l2.3 4.8l3 7.2l2.1 5.7l0.8 1.4l1.2 1.4l0.6 1.5l0.5 2.6l1 6.3l1.8 14.6l0.8 5.8l0.3 2.2l0.8 2.2l0.8 1.4l0.6 0.7l1.2 0.5l0.9 0.2l0.8 0l0.8-0.3l1.4-0.8l1.1-1l4.5-4.6l2.2-2l1.4-0.9l1.3-0.7l0.8-0.2l0.6 0l0.6 0.6l3.1 6.3l0.4 0.4l0.2 0.1l0.2-0.1l0.4-0.3l0.6-1.1l0.9-2.2l2.2-6.7l1.3-3.2l0.8-1.5l0.6-0.9l0.8-0.8l2-1.2l1.3-0.7l0.6-0.4l0.6-0.9l0.6-1.4l1.1-3.7l1-3.9l3-13.7l2.1-11.3l1.6-5.1l0.6-1.3l0.3-0.5l0.2 0l0.2 0l0.4 0.5l0.8 2l1.2 3.9l1.7 7.6l1.2 3.9l0.8 2.2l0.6 1.2l1.1 1.8l1 1.2l0.8 0.6l1.2 0.7l1.1 0.6l1 0.3l1 0.1l5.3 0.3l19.5 0.5" fill="none" stroke="#000" stroke-width="1.1" stroke-linejoin="round"/>
<path d="M211.2 325.4l0.6 7.8l0.2 1.3l0.4 0.8l0.6 0.5l0.4 0.2l0.3-0.1l1.8-0.4l1.4-0.7l0.6 0l0.5 0.2l1.6 1l2.2 1.9l1.9 2.3l1 1.4l0.8 1.4l2.5 5.2l2.2 5.1l2.1 5.9l3.7 11.9l0.8 1.7l1.2 1.9l0.6 1.6l0.5 2.8l1 6.4l1.8 15.3l0.8 5.9l0.3 2.4l0.6 1.8l0.8 1.6l0.6 0.8l1 0.6l1 0.3l0.9 0l1-0.4l1.4-0.8l1.1-1.1l4.5-4.9l2.2-2.1l1.4-1l1.3-0.7l0.8-0.3l0.6 0l0.6 0.7l3.1 6.5l0.4 0.5l0.2 0l0.2 0l0.4-0.4l0.6-1.1l1.1-2.9l2.2-6.9l1.1-2.8l0.8-1.6l0.6-0.9l0.8-0.8l2-1.1l1.3-0.7l0.6-0.5l0.6-0.8l0.6-1.5l1.3-4.4l1-4.3l2.8-13.2l2.1-11.6l1.6-5.4l0.6-1.3l0.3-0.5l0.2 0l0.2 0l0.4 0.5l0.8 2.1l1.2 4l1.7 7.9l1.2 4l0.8 2.2l0.6 1.3l1.1 1.9l1 1.2l0.8 0.6l1.2 0.8l1.1 0.5l1 0.4l1 0.1l5.1 0.3l19.7 0.5" fill="none" stroke="#000" stroke-width="1.1" stroke-linejoin="round"/>
<path d="M211.2 318.9l0.6 8.8l0.2 1.5l0.4 0.8l0.6 0.7l0.4 0.1l0.3 0l1.8-0.5l1.4-0.8l0.6 0l0.5 0.3l1.6 1.1l2 1.9l1.9 2.5l1.8 3l2.3 5.3l2 5.1l2.3 7.1l4.1 14.6l0.8 2l1.2 2.2l0.6 1.7l0.5 2.8l1 6.6l1.8 15.4l0.8 6.1l0.3 2.4l0.6 1.8l0.8 1.7l0.6 0.7l0.8 0.5l1.2 0.5l0.9 0l1-0.4l1.4-0.8l1.1-1.1l4.5-5.1l2.2-2.1l1.4-1l1.3-0.7l0.8-0.3l0.6 0l0.6 0.7l3.1 6.6l0.4 0.5l0.2 0l0.2 0l0.4-0.4l0.6-1.1l1.1-2.9l2.2-7l1.1-2.9l0.8-1.6l0.6-0.9l0.8-0.8l2-1.2l1.3-0.7l0.6-0.4l0.6-0.9l0.6-1.5l1.3-4.5l1-4.3l2.8-13.4l2.1-11.8l1.6-5.5l0.6-1.3l0.3-0.5l0.2-0.1l0.2 0.1l0.4 0.5l0.8 2.1l1.2 4.1l1.7 8l1.2 4l0.8 2.3l0.6 1.3l1.1 1.9l1 1.2l0.8 0.7l1.2 0.7l1.1 0.6l1 0.4l1 0.1l5.1 0.3l19.7 0.5" fill="none" stroke="#000" stroke-width="1.1" stroke-linejoin="round"/>
<path d="M211.2 317.8l0.6 9l0.2 1.5l0.4 0.9l0.6 0.6l0.4 0.2l0.3-0.1l1.8-0.4l1.4-0.9l0.6 0l0.5 0.3l1.6 1.1l2 1.9l1.9 2.6l1 1.6l0.8 1.5l2.3 5.4l2 5.2l2.3 7.2l4.1 14.9l0.8 2.1l1.2 2.1l0.6 1.8l0.5 2.9l1 6.6l1.8 15.7l0.8 6.2l0.3 2.4l0.6 1.8l0.8 1.7l0.6 0.8l0.8 0.5l1.2 0.4l0.9 0l1-0.3l1.4-0.9l1.1-1.1l4.5-5.1l2.2-2.1l1.4-1.1l1.3-0.7l0.8-0.2l0.6-0.1l0.6 0.7l3.1 6.8l0.4 0.4l0.2 0.1l0.2-0.1l0.4-0.4l0.6-1.1l1.1-3l2.2-7.1l1.1-2.9l0.8-1.6l0.6-1l0.8-0.7l2-1.2l1.3-0.8l0.6-0.4l0.6-0.9l0.6-1.5l1.3-4.6l1-4.3l2.8-13.7l2.1-12l1.6-5.5l0.6-1.4l0.3-0.4l0.2-0.1l0.2 0.1l0.4 0.5l0.8 2.2l1.2 4.1l1.7 8.1l1.2 4.1l0.8 2.3l0.6 1.3l1.1 1.9l1 1.3l0.8 0.7l1.2 0.7l1.1 0.6l1 0.3l1 0.2l5.1 0.3l19.7 0.5" fill="none" stroke="#000" stroke-width="1.1" stroke-linejoin="round"/>
<line x1="211.5" y1="376.2" x2="328.5" y2="376.2" stroke="#000" stroke-width="1.1"/>
</g>
<rect x="211.5" y="315.5" width="117" height="105" fill="none" stroke="#2a2a2a" stroke-width="1.0"/>
<rect x="51.5" y="315.5" width="277" height="224.5" fill="none" stroke="#2a2a2a" stroke-width="1.1"/>
<line x1="47" y1="540" x2="51.5" y2="540" stroke="#2a2a2a" stroke-width="1.1"/>
<text transform="translate(44.4,544.6) scale(1,1.1)" font-size="13.3" text-anchor="end">0.0</text>
<line x1="47" y1="492.58" x2="51.5" y2="492.58" stroke="#2a2a2a" stroke-width="1.1"/>
<text transform="translate(44.4,497.18) scale(1,1.1)" font-size="13.3" text-anchor="end">0.2</text>
<line x1="47" y1="445.16" x2="51.5" y2="445.16" stroke="#2a2a2a" stroke-width="1.1"/>
<text transform="translate(44.4,449.76) scale(1,1.1)" font-size="13.3" text-anchor="end">0.4</text>
<line x1="47" y1="397.74" x2="51.5" y2="397.74" stroke="#2a2a2a" stroke-width="1.1"/>
<text transform="translate(44.4,402.34) scale(1,1.1)" font-size="13.3" text-anchor="end">0.6</text>
<line x1="47" y1="350.32" x2="51.5" y2="350.32" stroke="#2a2a2a" stroke-width="1.1"/>
<text transform="translate(44.4,354.92) scale(1,1.1)" font-size="13.3" text-anchor="end">0.8</text>
<line x1="49" y1="516.29" x2="51.5" y2="516.29" stroke="#2a2a2a" stroke-width="1.1"/>
<line x1="49" y1="468.87" x2="51.5" y2="468.87" stroke="#2a2a2a" stroke-width="1.1"/>
<line x1="49" y1="421.45" x2="51.5" y2="421.45" stroke="#2a2a2a" stroke-width="1.1"/>
<line x1="49" y1="374.03" x2="51.5" y2="374.03" stroke="#2a2a2a" stroke-width="1.1"/>
<line x1="49" y1="326.61" x2="51.5" y2="326.61" stroke="#2a2a2a" stroke-width="1.1"/>
<line x1="124.9" y1="540" x2="124.9" y2="544.3" stroke="#2a2a2a" stroke-width="1.1"/>
<text transform="translate(124.9,558.3) scale(1,1.1)" font-size="13.3" text-anchor="middle">400</text>
<line x1="206.15" y1="540" x2="206.15" y2="544.3" stroke="#2a2a2a" stroke-width="1.1"/>
<text transform="translate(206.15,558.3) scale(1,1.1)" font-size="13.3" text-anchor="middle">500</text>
<line x1="287.4" y1="540" x2="287.4" y2="544.3" stroke="#2a2a2a" stroke-width="1.1"/>
<text transform="translate(287.4,558.3) scale(1,1.1)" font-size="13.3" text-anchor="middle">600</text>
<line x1="84.28" y1="540" x2="84.28" y2="542.5" stroke="#2a2a2a" stroke-width="1.1"/>
<line x1="165.53" y1="540" x2="165.53" y2="542.5" stroke="#2a2a2a" stroke-width="1.1"/>
<line x1="246.78" y1="540" x2="246.78" y2="542.5" stroke="#2a2a2a" stroke-width="1.1"/>
<line x1="328.5" y1="540" x2="328.5" y2="542.7" stroke="#2a2a2a" stroke-width="1.1"/>
<text transform="translate(190,579.2) scale(1,1.08)" font-size="13.3" text-anchor="middle">Wavelength (nm)</text>
<text x="9.8" y="436" font-size="13.3" text-anchor="middle" font-weight="normal" transform="rotate(-90 9.8 436)">Absorbance</text>
<text x="61.6" y="307.6" font-size="16" text-anchor="middle" font-weight="bold" >b</text>
<line x1="209.5" y1="410.8" x2="211.5" y2="410.8" stroke="#2a2a2a" stroke-width="0.9"/>
<text transform="translate(208.3,412.8) scale(1,1.2)" font-size="5.8" text-anchor="end">-0.08</text>
<line x1="209.5" y1="393.5" x2="211.5" y2="393.5" stroke="#2a2a2a" stroke-width="0.9"/>
<text transform="translate(208.3,395.5) scale(1,1.2)" font-size="5.8" text-anchor="end">-0.04</text>
<line x1="209.5" y1="376.2" x2="211.5" y2="376.2" stroke="#2a2a2a" stroke-width="0.9"/>
<text transform="translate(208.3,378.2) scale(1,1.2)" font-size="5.8" text-anchor="end">0.00</text>
<line x1="209.5" y1="358.9" x2="211.5" y2="358.9" stroke="#2a2a2a" stroke-width="0.9"/>
<text transform="translate(208.3,360.9) scale(1,1.2)" font-size="5.8" text-anchor="end">0.04</text>
<line x1="209.5" y1="341.6" x2="211.5" y2="341.6" stroke="#2a2a2a" stroke-width="0.9"/>
<text transform="translate(208.3,343.6) scale(1,1.2)" font-size="5.8" text-anchor="end">0.08</text>
<line x1="209.5" y1="324.3" x2="211.5" y2="324.3" stroke="#2a2a2a" stroke-width="0.9"/>
<text transform="translate(208.3,326.3) scale(1,1.2)" font-size="5.8" text-anchor="end">0.12</text>
<line x1="210.2" y1="402.15" x2="211.5" y2="402.15" stroke="#2a2a2a" stroke-width="0.9"/>
<line x1="210.2" y1="384.85" x2="211.5" y2="384.85" stroke="#2a2a2a" stroke-width="0.9"/>
<line x1="210.2" y1="367.55" x2="211.5" y2="367.55" stroke="#2a2a2a" stroke-width="0.9"/>
<line x1="210.2" y1="350.25" x2="211.5" y2="350.25" stroke="#2a2a2a" stroke-width="0.9"/>
<line x1="210.2" y1="332.95" x2="211.5" y2="332.95" stroke="#2a2a2a" stroke-width="0.9"/>
<line x1="230.85" y1="420.5" x2="230.85" y2="422.5" stroke="#2a2a2a" stroke-width="0.9"/>
<text transform="translate(230.85,428.6) scale(1,1.2)" font-size="5.8" text-anchor="middle">350</text>
<line x1="252.2" y1="420.5" x2="252.2" y2="422.5" stroke="#2a2a2a" stroke-width="0.9"/>
<text transform="translate(252.2,428.6) scale(1,1.2)" font-size="5.8" text-anchor="middle">400</text>
<line x1="273.55" y1="420.5" x2="273.55" y2="422.5" stroke="#2a2a2a" stroke-width="0.9"/>
<text transform="translate(273.55,428.6) scale(1,1.2)" font-size="5.8" text-anchor="middle">450</text>
<line x1="294.9" y1="420.5" x2="294.9" y2="422.5" stroke="#2a2a2a" stroke-width="0.9"/>
<text transform="translate(294.9,428.6) scale(1,1.2)" font-size="5.8" text-anchor="middle">500</text>
<line x1="316.25" y1="420.5" x2="316.25" y2="422.5" stroke="#2a2a2a" stroke-width="0.9"/>
<text transform="translate(316.25,428.6) scale(1,1.2)" font-size="5.8" text-anchor="middle">550</text>
<line x1="220.17" y1="420.5" x2="220.17" y2="421.8" stroke="#2a2a2a" stroke-width="0.9"/>
<line x1="241.52" y1="420.5" x2="241.52" y2="421.8" stroke="#2a2a2a" stroke-width="0.9"/>
<line x1="262.88" y1="420.5" x2="262.88" y2="421.8" stroke="#2a2a2a" stroke-width="0.9"/>
<line x1="284.22" y1="420.5" x2="284.22" y2="421.8" stroke="#2a2a2a" stroke-width="0.9"/>
<line x1="305.57" y1="420.5" x2="305.57" y2="421.8" stroke="#2a2a2a" stroke-width="0.9"/>
<line x1="326.92" y1="420.5" x2="326.92" y2="421.8" stroke="#2a2a2a" stroke-width="0.9"/>
<text transform="translate(269.6,440.3) scale(1,1.15)" font-size="7.1" text-anchor="middle">Wavelength (nm)</text>
<text x="194.4" y="372.6" font-size="7.0" text-anchor="middle" font-weight="normal" transform="rotate(-90 194.4 372.6)">&#916;Abs</text>
<rect x="400.5" y="32.5" width="268" height="218" fill="none" stroke="#2a2a2a" stroke-width="1.1"/>
<line x1="396" y1="242.2" x2="400.5" y2="242.2" stroke="#2a2a2a" stroke-width="1.1"/>
<text x="392.6" y="246.6" font-size="12.5" text-anchor="end" font-weight="normal" >0.00</text>
<line x1="396" y1="210.02" x2="400.5" y2="210.02" stroke="#2a2a2a" stroke-width="1.1"/>
<text x="392.6" y="214.42" font-size="12.5" text-anchor="end" font-weight="normal" >0.02</text>
<line x1="396" y1="177.84" x2="400.5" y2="177.84" stroke="#2a2a2a" stroke-width="1.1"/>
<text x="392.6" y="182.24" font-size="12.5" text-anchor="end" font-weight="normal" >0.04</text>
<line x1="396" y1="145.66" x2="400.5" y2="145.66" stroke="#2a2a2a" stroke-width="1.1"/>
<text x="392.6" y="150.06" font-size="12.5" text-anchor="end" font-weight="normal" >0.06</text>
<line x1="396" y1="113.48" x2="400.5" y2="113.48" stroke="#2a2a2a" stroke-width="1.1"/>
<text x="392.6" y="117.88" font-size="12.5" text-anchor="end" font-weight="normal" >0.08</text>
<line x1="396" y1="81.3" x2="400.5" y2="81.3" stroke="#2a2a2a" stroke-width="1.1"/>
<text x="392.6" y="85.7" font-size="12.5" text-anchor="end" font-weight="normal" >0.10</text>
<line x1="396" y1="49.12" x2="400.5" y2="49.12" stroke="#2a2a2a" stroke-width="1.1"/>
<text x="392.6" y="53.52" font-size="12.5" text-anchor="end" font-weight="normal" >0.12</text>
<line x1="398" y1="226.11" x2="400.5" y2="226.11" stroke="#2a2a2a" stroke-width="1.1"/>
<line x1="398" y1="193.93" x2="400.5" y2="193.93" stroke="#2a2a2a" stroke-width="1.1"/>
<line x1="398" y1="161.75" x2="400.5" y2="161.75" stroke="#2a2a2a" stroke-width="1.1"/>
<line x1="398" y1="129.57" x2="400.5" y2="129.57" stroke="#2a2a2a" stroke-width="1.1"/>
<line x1="398" y1="97.39" x2="400.5" y2="97.39" stroke="#2a2a2a" stroke-width="1.1"/>
<line x1="398" y1="65.21" x2="400.5" y2="65.21" stroke="#2a2a2a" stroke-width="1.1"/>
<line x1="398" y1="33.03" x2="400.5" y2="33.03" stroke="#2a2a2a" stroke-width="1.1"/>
<line x1="400.5" y1="250.5" x2="400.5" y2="254.8" stroke="#2a2a2a" stroke-width="1.1"/>
<text x="400.5" y="267.6" font-size="12.5" text-anchor="middle" font-weight="normal" >0</text>
<line x1="433.17" y1="250.5" x2="433.17" y2="254.8" stroke="#2a2a2a" stroke-width="1.1"/>
<text x="433.17" y="267.6" font-size="12.5" text-anchor="middle" font-weight="normal" >50</text>
<line x1="465.83" y1="250.5" x2="465.83" y2="254.8" stroke="#2a2a2a" stroke-width="1.1"/>
<text x="465.83" y="267.6" font-size="12.5" text-anchor="middle" font-weight="normal" >100</text>
<line x1="498.5" y1="250.5" x2="498.5" y2="254.8" stroke="#2a2a2a" stroke-width="1.1"/>
<text x="498.5" y="267.6" font-size="12.5" text-anchor="middle" font-weight="normal" >150</text>
<line x1="531.16" y1="250.5" x2="531.16" y2="254.8" stroke="#2a2a2a" stroke-width="1.1"/>
<text x="531.16" y="267.6" font-size="12.5" text-anchor="middle" font-weight="normal" >200</text>
<line x1="563.83" y1="250.5" x2="563.83" y2="254.8" stroke="#2a2a2a" stroke-width="1.1"/>
<text x="563.83" y="267.6" font-size="12.5" text-anchor="middle" font-weight="normal" >250</text>
<line x1="596.49" y1="250.5" x2="596.49" y2="254.8" stroke="#2a2a2a" stroke-width="1.1"/>
<text x="596.49" y="267.6" font-size="12.5" text-anchor="middle" font-weight="normal" >300</text>
<line x1="629.15" y1="250.5" x2="629.15" y2="254.8" stroke="#2a2a2a" stroke-width="1.1"/>
<text x="629.15" y="267.6" font-size="12.5" text-anchor="middle" font-weight="normal" >350</text>
<line x1="661.82" y1="250.5" x2="661.82" y2="254.8" stroke="#2a2a2a" stroke-width="1.1"/>
<text x="661.82" y="267.6" font-size="12.5" text-anchor="middle" font-weight="normal" >400</text>
<line x1="416.83" y1="250.5" x2="416.83" y2="253" stroke="#2a2a2a" stroke-width="1.1"/>
<line x1="449.5" y1="250.5" x2="449.5" y2="253" stroke="#2a2a2a" stroke-width="1.1"/>
<line x1="482.16" y1="250.5" x2="482.16" y2="253" stroke="#2a2a2a" stroke-width="1.1"/>
<line x1="514.83" y1="250.5" x2="514.83" y2="253" stroke="#2a2a2a" stroke-width="1.1"/>
<line x1="547.49" y1="250.5" x2="547.49" y2="253" stroke="#2a2a2a" stroke-width="1.1"/>
<line x1="580.16" y1="250.5" x2="580.16" y2="253" stroke="#2a2a2a" stroke-width="1.1"/>
<line x1="612.82" y1="250.5" x2="612.82" y2="253" stroke="#2a2a2a" stroke-width="1.1"/>
<line x1="645.49" y1="250.5" x2="645.49" y2="253" stroke="#2a2a2a" stroke-width="1.1"/>
<path d="M400.5 242.2l1.8-13.2l1.2-6.6l0.9-3.5l0.8-3l3.1-9.5l3.2-8.7l3.2-9.2l1.9-5l5.1-11.6l9-21.3l7.6-16.5l3.2-6.4l3.2-5.5l2.6-3.7l3.8-4.8l4.5-4.9l4.4-4.2l5.8-5l2.5-2.1l3.2-2.3l3.2-2.2l3.2-1.9l3.2-1.8l3.2-1.7l6.4-2.9l8.9-3.5l8.3-2.9l9-2.7l8.3-1.9l10.2-2l10.8-1.9l10.9-1.6l12.1-1.5l12.8-1.4l14.7-1.2l33.8-2.5l15.4-1.1l15.9-1" fill="none" stroke="#000" stroke-width="1.0" stroke-linejoin="round"/>
<circle cx="400.5" cy="242.2" r="3.4" fill="#000"/>
<circle cx="403.77" cy="222.8" r="3.4" fill="#000"/>
<circle cx="407.03" cy="194.25" r="3.4" fill="#000"/>
<circle cx="433.17" cy="145.82" r="3.4" fill="#000"/>
<circle cx="465.83" cy="105.43" r="3.4" fill="#000"/>
<circle cx="498.5" cy="81.46" r="3.4" fill="#000"/>
<circle cx="531.16" cy="69.23" r="3.4" fill="#000"/>
<circle cx="563.83" cy="63.92" r="3.4" fill="#000"/>
<circle cx="596.49" cy="64.57" r="3.4" fill="#000"/>
<circle cx="661.82" cy="62.8" r="3.4" fill="#000"/>
<text x="411.2" y="15.3" font-size="16" text-anchor="middle" font-weight="bold" >c</text>
<text transform="translate(351.6,185.9) rotate(-90)" font-size="10.8">&#916; Abs</text>
<text transform="translate(355.9,152.9) rotate(-90)" font-size="11.6">467nm</text>
<text transform="translate(507.6,291.3) scale(1,1.12)" font-size="12.7" text-anchor="start">[NADP</text>
<text transform="translate(548.7,282.2) scale(1,1.12)" font-size="11" text-anchor="start">+</text>
<text transform="translate(554.3,291.3) scale(1,1.12)" font-size="12.7" text-anchor="start">]</text>
<text transform="translate(562.4,291.3) scale(1,1.12)" font-size="12.3" text-anchor="start">&#181;M</text>
<rect x="414.5" y="317.5" width="260" height="211" fill="none" stroke="#2a2a2a" stroke-width="1.1"/>
<line x1="410" y1="526.3" x2="414.5" y2="526.3" stroke="#2a2a2a" stroke-width="1.1"/>
<text x="407" y="530.2" font-size="11.9" text-anchor="end" font-weight="normal" >0.00</text>
<line x1="410" y1="498.4" x2="414.5" y2="498.4" stroke="#2a2a2a" stroke-width="1.1"/>
<text x="407" y="502.3" font-size="11.9" text-anchor="end" font-weight="normal" >0.01</text>
<line x1="410" y1="470.5" x2="414.5" y2="470.5" stroke="#2a2a2a" stroke-width="1.1"/>
<text x="407" y="474.4" font-size="11.9" text-anchor="end" font-weight="normal" >0.02</text>
<line x1="410" y1="442.6" x2="414.5" y2="442.6" stroke="#2a2a2a" stroke-width="1.1"/>
<text x="407" y="446.5" font-size="11.9" text-anchor="end" font-weight="normal" >0.03</text>
<line x1="410" y1="414.7" x2="414.5" y2="414.7" stroke="#2a2a2a" stroke-width="1.1"/>
<text x="407" y="418.6" font-size="11.9" text-anchor="end" font-weight="normal" >0.04</text>
<line x1="410" y1="386.8" x2="414.5" y2="386.8" stroke="#2a2a2a" stroke-width="1.1"/>
<text x="407" y="390.7" font-size="11.9" text-anchor="end" font-weight="normal" >0.05</text>
<line x1="410" y1="358.9" x2="414.5" y2="358.9" stroke="#2a2a2a" stroke-width="1.1"/>
<text x="407" y="362.8" font-size="11.9" text-anchor="end" font-weight="normal" >0.06</text>
<line x1="410" y1="331" x2="414.5" y2="331" stroke="#2a2a2a" stroke-width="1.1"/>
<text x="407" y="334.9" font-size="11.9" text-anchor="end" font-weight="normal" >0.07</text>
<line x1="412" y1="512.35" x2="414.5" y2="512.35" stroke="#2a2a2a" stroke-width="1.1"/>
<line x1="412" y1="484.45" x2="414.5" y2="484.45" stroke="#2a2a2a" stroke-width="1.1"/>
<line x1="412" y1="456.55" x2="414.5" y2="456.55" stroke="#2a2a2a" stroke-width="1.1"/>
<line x1="412" y1="428.65" x2="414.5" y2="428.65" stroke="#2a2a2a" stroke-width="1.1"/>
<line x1="412" y1="400.75" x2="414.5" y2="400.75" stroke="#2a2a2a" stroke-width="1.1"/>
<line x1="412" y1="372.85" x2="414.5" y2="372.85" stroke="#2a2a2a" stroke-width="1.1"/>
<line x1="412" y1="344.95" x2="414.5" y2="344.95" stroke="#2a2a2a" stroke-width="1.1"/>
<line x1="415.5" y1="528.5" x2="415.5" y2="532.8" stroke="#2a2a2a" stroke-width="1.1"/>
<text x="415.5" y="544.6" font-size="11.9" text-anchor="middle" font-weight="normal" >0</text>
<line x1="467.5" y1="528.5" x2="467.5" y2="532.8" stroke="#2a2a2a" stroke-width="1.1"/>
<text x="467.5" y="544.6" font-size="11.9" text-anchor="middle" font-weight="normal" >20</text>
<line x1="519.5" y1="528.5" x2="519.5" y2="532.8" stroke="#2a2a2a" stroke-width="1.1"/>
<text x="519.5" y="544.6" font-size="11.9" text-anchor="middle" font-weight="normal" >40</text>
<line x1="571.5" y1="528.5" x2="571.5" y2="532.8" stroke="#2a2a2a" stroke-width="1.1"/>
<text x="571.5" y="544.6" font-size="11.9" text-anchor="middle" font-weight="normal" >60</text>
<line x1="623.5" y1="528.5" x2="623.5" y2="532.8" stroke="#2a2a2a" stroke-width="1.1"/>
<text x="623.5" y="544.6" font-size="11.9" text-anchor="middle" font-weight="normal" >80</text>
<line x1="675.5" y1="528.5" x2="675.5" y2="532.8" stroke="#2a2a2a" stroke-width="1.1"/>
<text x="675.5" y="544.6" font-size="11.9" text-anchor="middle" font-weight="normal" >100</text>
<line x1="441.5" y1="528.5" x2="441.5" y2="531" stroke="#2a2a2a" stroke-width="1.1"/>
<line x1="493.5" y1="528.5" x2="493.5" y2="531" stroke="#2a2a2a" stroke-width="1.1"/>
<line x1="545.5" y1="528.5" x2="545.5" y2="531" stroke="#2a2a2a" stroke-width="1.1"/>
<line x1="597.5" y1="528.5" x2="597.5" y2="531" stroke="#2a2a2a" stroke-width="1.1"/>
<line x1="649.5" y1="528.5" x2="649.5" y2="531" stroke="#2a2a2a" stroke-width="1.1"/>
<path d="M415.5 526.3l0.5-54.7l0.5-36.4l0.4-15l0.5-12.5l0.6-11.4l0.6-9l0.8-7.7l0.9-6.5l1.1-5.5l1.3-4.5l1.5-3.9l0.8-1.7l1-1.7l1-1.4l1.1-1.3l1.5-1.5l1-0.9l1.1-0.8l2.2-1.4l3.2-1.5l2.1-0.8l2.2-0.7l4.2-1.1l5.4-0.9l7.5-1l7.5-0.7l9.6-0.7l10.8-0.5l12.8-0.4l33.2-0.7l46.1-0.5l63.2-0.4" fill="none" stroke="#000" stroke-width="1.0" stroke-linejoin="round"/>
<circle cx="415.76" cy="526.3" r="3.65" fill="#000"/>
<circle cx="416.2" cy="500.91" r="3.65" fill="#000"/>
<circle cx="416.2" cy="469.1" r="3.65" fill="#000"/>
<circle cx="416.9" cy="438.14" r="3.65" fill="#000"/>
<circle cx="418.62" cy="414.7" r="3.65" fill="#000"/>
<circle cx="420.44" cy="340.21" r="3.65" fill="#000"/>
<circle cx="425.38" cy="339.09" r="3.65" fill="#000"/>
<circle cx="441.5" cy="338.53" r="3.65" fill="#000"/>
<circle cx="467.5" cy="345.79" r="3.65" fill="#000"/>
<circle cx="493.5" cy="348.3" r="3.65" fill="#000"/>
<circle cx="545.5" cy="348.02" r="3.65" fill="#000"/>
<circle cx="641.18" cy="350.81" r="3.65" fill="#000"/>
<text x="411.4" y="308" font-size="16" text-anchor="middle" font-weight="bold" >d</text>
<text transform="translate(370.1,454.4) rotate(-90)" font-size="11.8">&#916;Abs</text>
<text transform="translate(374.7,426.5) rotate(-90)" font-size="7">487</text>
<text transform="translate(497.6,570) scale(1,1.08)" font-size="11.7" text-anchor="start">NADP</text>
<text transform="translate(531.6,563.4) scale(1,1.08)" font-size="11" text-anchor="start">+</text>
<text transform="translate(541.8,570) scale(1,1.08)" font-size="11.7" text-anchor="start">(&#181;M)</text>
</svg></body></html>
